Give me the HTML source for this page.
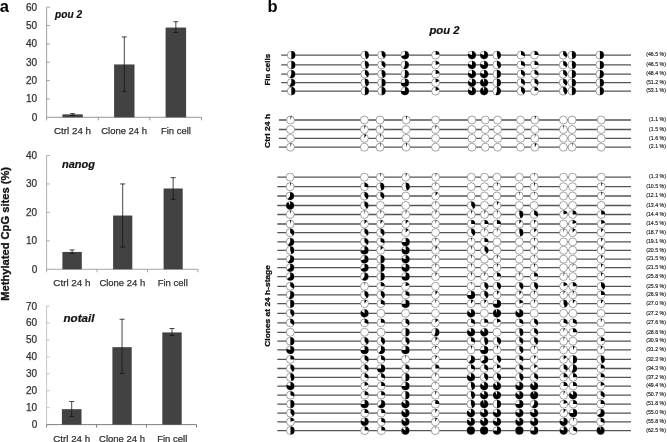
<!DOCTYPE html>
<html><head><meta charset="utf-8"><style>
html,body{margin:0;padding:0;background:#fff;}
body{width:667px;height:442px;overflow:hidden;}
svg{display:block;font-family:"Liberation Sans", sans-serif;filter:blur(0.35px);}
</style></head><body>
<svg width="667" height="442" viewBox="0 0 667 442">
<rect width="667" height="442" fill="#fff"/>
<text x="-0.3" y="11.8" font-size="16.5" font-weight="bold" font-style="normal" text-anchor="start" fill="#000">a</text>
<line x1="46.6" y1="7.2" x2="46.6" y2="117.3" stroke="#959595" stroke-width="0.9"/>
<line x1="46.6" y1="117.3" x2="201.5" y2="117.3" stroke="#8a8a8a" stroke-width="0.9"/>
<text x="37.2" y="120.80" font-size="10.0" font-weight="normal" font-style="normal" text-anchor="end" fill="#333" stroke="#333" stroke-width="0.25">0</text>
<line x1="46.6" y1="98.95" x2="49.800000000000004" y2="98.95" stroke="#959595" stroke-width="0.9"/>
<text x="37.2" y="102.45" font-size="10.0" font-weight="normal" font-style="normal" text-anchor="end" fill="#333" stroke="#333" stroke-width="0.25">10</text>
<line x1="46.6" y1="80.60" x2="49.800000000000004" y2="80.60" stroke="#959595" stroke-width="0.9"/>
<text x="37.2" y="84.10" font-size="10.0" font-weight="normal" font-style="normal" text-anchor="end" fill="#333" stroke="#333" stroke-width="0.25">20</text>
<line x1="46.6" y1="62.25" x2="49.800000000000004" y2="62.25" stroke="#959595" stroke-width="0.9"/>
<text x="37.2" y="65.75" font-size="10.0" font-weight="normal" font-style="normal" text-anchor="end" fill="#333" stroke="#333" stroke-width="0.25">30</text>
<line x1="46.6" y1="43.90" x2="49.800000000000004" y2="43.90" stroke="#959595" stroke-width="0.9"/>
<text x="37.2" y="47.40" font-size="10.0" font-weight="normal" font-style="normal" text-anchor="end" fill="#333" stroke="#333" stroke-width="0.25">40</text>
<line x1="46.6" y1="25.55" x2="49.800000000000004" y2="25.55" stroke="#959595" stroke-width="0.9"/>
<text x="37.2" y="29.05" font-size="10.0" font-weight="normal" font-style="normal" text-anchor="end" fill="#333" stroke="#333" stroke-width="0.25">50</text>
<line x1="46.6" y1="7.20" x2="49.800000000000004" y2="7.20" stroke="#959595" stroke-width="0.9"/>
<text x="37.2" y="10.70" font-size="10.0" font-weight="normal" font-style="normal" text-anchor="end" fill="#333" stroke="#333" stroke-width="0.25">60</text>
<line x1="46.60" y1="117.3" x2="46.60" y2="120.3" stroke="#8a8a8a" stroke-width="0.9"/>
<line x1="98.23" y1="117.3" x2="98.23" y2="120.3" stroke="#8a8a8a" stroke-width="0.9"/>
<line x1="149.87" y1="117.3" x2="149.87" y2="120.3" stroke="#8a8a8a" stroke-width="0.9"/>
<line x1="201.50" y1="117.3" x2="201.50" y2="120.3" stroke="#8a8a8a" stroke-width="0.9"/>
<rect x="62.4" y="114.36" width="20.40" height="2.94" fill="#424242"/>
<line x1="72.60" y1="113.63" x2="72.60" y2="115.47" stroke="#151515" stroke-width="0.8"/>
<line x1="70.10" y1="113.63" x2="75.10" y2="113.63" stroke="#151515" stroke-width="0.8"/>
<line x1="70.10" y1="115.47" x2="75.10" y2="115.47" stroke="#151515" stroke-width="0.8"/>
<rect x="114.1" y="64.45" width="20.40" height="52.85" fill="#424242"/>
<line x1="124.30" y1="36.93" x2="124.30" y2="91.61" stroke="#151515" stroke-width="0.8"/>
<line x1="121.80" y1="36.93" x2="126.80" y2="36.93" stroke="#151515" stroke-width="0.8"/>
<line x1="121.80" y1="91.61" x2="126.80" y2="91.61" stroke="#151515" stroke-width="0.8"/>
<rect x="165.6" y="27.57" width="20.50" height="89.73" fill="#424242"/>
<line x1="175.85" y1="21.70" x2="175.85" y2="32.52" stroke="#151515" stroke-width="0.8"/>
<line x1="173.35" y1="21.70" x2="178.35" y2="21.70" stroke="#151515" stroke-width="0.8"/>
<line x1="173.35" y1="32.52" x2="178.35" y2="32.52" stroke="#151515" stroke-width="0.8"/>
<text x="55.1" y="17.9" font-size="10.8" font-weight="bold" font-style="italic" text-anchor="start" fill="#111" textLength="27.0" lengthAdjust="spacingAndGlyphs" stroke="#111" stroke-width="0.2">pou 2</text>
<text x="54.0" y="133.8" font-size="9.6" font-weight="normal" font-style="normal" text-anchor="start" fill="#333" textLength="37.0" lengthAdjust="spacingAndGlyphs" stroke="#333" stroke-width="0.25">Ctrl 24 h</text>
<text x="101.2" y="133.8" font-size="9.6" font-weight="normal" font-style="normal" text-anchor="start" fill="#333" textLength="45.8" lengthAdjust="spacingAndGlyphs" stroke="#333" stroke-width="0.25">Clone 24 h</text>
<text x="161.0" y="133.8" font-size="9.6" font-weight="normal" font-style="normal" text-anchor="start" fill="#333" textLength="29.9" lengthAdjust="spacingAndGlyphs" stroke="#333" stroke-width="0.25">Fin cell</text>
<line x1="46.6" y1="155.5" x2="46.6" y2="269.3" stroke="#a5a5a5" stroke-width="0.9"/>
<line x1="46.6" y1="269.3" x2="198.0" y2="269.3" stroke="#9c9c9c" stroke-width="0.9"/>
<text x="37.2" y="272.80" font-size="10.0" font-weight="normal" font-style="normal" text-anchor="end" fill="#333" stroke="#333" stroke-width="0.25">0</text>
<line x1="46.6" y1="240.85" x2="49.800000000000004" y2="240.85" stroke="#a5a5a5" stroke-width="0.9"/>
<text x="37.2" y="244.35" font-size="10.0" font-weight="normal" font-style="normal" text-anchor="end" fill="#333" stroke="#333" stroke-width="0.25">10</text>
<line x1="46.6" y1="212.40" x2="49.800000000000004" y2="212.40" stroke="#a5a5a5" stroke-width="0.9"/>
<text x="37.2" y="215.90" font-size="10.0" font-weight="normal" font-style="normal" text-anchor="end" fill="#333" stroke="#333" stroke-width="0.25">20</text>
<line x1="46.6" y1="183.95" x2="49.800000000000004" y2="183.95" stroke="#a5a5a5" stroke-width="0.9"/>
<text x="37.2" y="187.45" font-size="10.0" font-weight="normal" font-style="normal" text-anchor="end" fill="#333" stroke="#333" stroke-width="0.25">30</text>
<line x1="46.6" y1="155.50" x2="49.800000000000004" y2="155.50" stroke="#a5a5a5" stroke-width="0.9"/>
<text x="37.2" y="159.00" font-size="10.0" font-weight="normal" font-style="normal" text-anchor="end" fill="#333" stroke="#333" stroke-width="0.25">40</text>
<line x1="46.60" y1="269.3" x2="46.60" y2="272.3" stroke="#9c9c9c" stroke-width="0.9"/>
<line x1="97.07" y1="269.3" x2="97.07" y2="272.3" stroke="#9c9c9c" stroke-width="0.9"/>
<line x1="147.53" y1="269.3" x2="147.53" y2="272.3" stroke="#9c9c9c" stroke-width="0.9"/>
<line x1="198.00" y1="269.3" x2="198.00" y2="272.3" stroke="#9c9c9c" stroke-width="0.9"/>
<rect x="62.4" y="251.95" width="19.40" height="17.35" fill="#424242"/>
<line x1="72.10" y1="249.95" x2="72.10" y2="253.37" stroke="#151515" stroke-width="0.8"/>
<line x1="69.60" y1="249.95" x2="74.60" y2="249.95" stroke="#151515" stroke-width="0.8"/>
<line x1="69.60" y1="253.37" x2="74.60" y2="253.37" stroke="#151515" stroke-width="0.8"/>
<rect x="113.1" y="215.53" width="19.20" height="53.77" fill="#424242"/>
<line x1="122.70" y1="183.95" x2="122.70" y2="247.11" stroke="#151515" stroke-width="0.8"/>
<line x1="120.20" y1="183.95" x2="125.20" y2="183.95" stroke="#151515" stroke-width="0.8"/>
<line x1="120.20" y1="247.11" x2="125.20" y2="247.11" stroke="#151515" stroke-width="0.8"/>
<rect x="163.6" y="188.50" width="19.10" height="80.80" fill="#424242"/>
<line x1="173.15" y1="177.69" x2="173.15" y2="199.31" stroke="#151515" stroke-width="0.8"/>
<line x1="170.65" y1="177.69" x2="175.65" y2="177.69" stroke="#151515" stroke-width="0.8"/>
<line x1="170.65" y1="199.31" x2="175.65" y2="199.31" stroke="#151515" stroke-width="0.8"/>
<text x="62.0" y="167.8" font-size="10.8" font-weight="bold" font-style="italic" text-anchor="start" fill="#111" textLength="33.0" lengthAdjust="spacingAndGlyphs" stroke="#111" stroke-width="0.2">nanog</text>
<text x="53.3" y="286.1" font-size="9.6" font-weight="normal" font-style="normal" text-anchor="start" fill="#333" textLength="37.2" lengthAdjust="spacingAndGlyphs" stroke="#333" stroke-width="0.25">Ctrl 24 h</text>
<text x="99.4" y="286.1" font-size="9.6" font-weight="normal" font-style="normal" text-anchor="start" fill="#333" textLength="45.8" lengthAdjust="spacingAndGlyphs" stroke="#333" stroke-width="0.25">Clone 24 h</text>
<text x="157.7" y="286.1" font-size="9.6" font-weight="normal" font-style="normal" text-anchor="start" fill="#333" textLength="30.1" lengthAdjust="spacingAndGlyphs" stroke="#333" stroke-width="0.25">Fin cell</text>
<line x1="46.6" y1="306.0" x2="46.6" y2="424.6" stroke="#c0c0c0" stroke-width="0.9"/>
<line x1="46.6" y1="424.6" x2="196.5" y2="424.6" stroke="#707070" stroke-width="0.9"/>
<text x="37.2" y="428.10" font-size="10.0" font-weight="normal" font-style="normal" text-anchor="end" fill="#333" stroke="#333" stroke-width="0.25">0</text>
<line x1="46.6" y1="407.66" x2="49.800000000000004" y2="407.66" stroke="#c0c0c0" stroke-width="0.9"/>
<text x="37.2" y="411.16" font-size="10.0" font-weight="normal" font-style="normal" text-anchor="end" fill="#333" stroke="#333" stroke-width="0.25">10</text>
<line x1="46.6" y1="390.71" x2="49.800000000000004" y2="390.71" stroke="#c0c0c0" stroke-width="0.9"/>
<text x="37.2" y="394.21" font-size="10.0" font-weight="normal" font-style="normal" text-anchor="end" fill="#333" stroke="#333" stroke-width="0.25">20</text>
<line x1="46.6" y1="373.77" x2="49.800000000000004" y2="373.77" stroke="#c0c0c0" stroke-width="0.9"/>
<text x="37.2" y="377.27" font-size="10.0" font-weight="normal" font-style="normal" text-anchor="end" fill="#333" stroke="#333" stroke-width="0.25">30</text>
<line x1="46.6" y1="356.83" x2="49.800000000000004" y2="356.83" stroke="#c0c0c0" stroke-width="0.9"/>
<text x="37.2" y="360.33" font-size="10.0" font-weight="normal" font-style="normal" text-anchor="end" fill="#333" stroke="#333" stroke-width="0.25">40</text>
<line x1="46.6" y1="339.89" x2="49.800000000000004" y2="339.89" stroke="#c0c0c0" stroke-width="0.9"/>
<text x="37.2" y="343.39" font-size="10.0" font-weight="normal" font-style="normal" text-anchor="end" fill="#333" stroke="#333" stroke-width="0.25">50</text>
<line x1="46.6" y1="322.94" x2="49.800000000000004" y2="322.94" stroke="#c0c0c0" stroke-width="0.9"/>
<text x="37.2" y="326.44" font-size="10.0" font-weight="normal" font-style="normal" text-anchor="end" fill="#333" stroke="#333" stroke-width="0.25">60</text>
<line x1="46.6" y1="306.00" x2="49.800000000000004" y2="306.00" stroke="#c0c0c0" stroke-width="0.9"/>
<text x="37.2" y="309.50" font-size="10.0" font-weight="normal" font-style="normal" text-anchor="end" fill="#333" stroke="#333" stroke-width="0.25">70</text>
<line x1="46.60" y1="424.6" x2="46.60" y2="427.6" stroke="#707070" stroke-width="0.9"/>
<line x1="96.57" y1="424.6" x2="96.57" y2="427.6" stroke="#707070" stroke-width="0.9"/>
<line x1="146.53" y1="424.6" x2="146.53" y2="427.6" stroke="#707070" stroke-width="0.9"/>
<line x1="196.50" y1="424.6" x2="196.50" y2="427.6" stroke="#707070" stroke-width="0.9"/>
<rect x="61.9" y="409.18" width="19.60" height="15.42" fill="#424242"/>
<line x1="71.70" y1="401.56" x2="71.70" y2="416.64" stroke="#151515" stroke-width="0.8"/>
<line x1="69.20" y1="401.56" x2="74.20" y2="401.56" stroke="#151515" stroke-width="0.8"/>
<line x1="69.20" y1="416.64" x2="74.20" y2="416.64" stroke="#151515" stroke-width="0.8"/>
<rect x="112.4" y="347.17" width="19.30" height="77.43" fill="#424242"/>
<line x1="122.05" y1="319.22" x2="122.05" y2="373.43" stroke="#151515" stroke-width="0.8"/>
<line x1="119.55" y1="319.22" x2="124.55" y2="319.22" stroke="#151515" stroke-width="0.8"/>
<line x1="119.55" y1="373.43" x2="124.55" y2="373.43" stroke="#151515" stroke-width="0.8"/>
<rect x="162.3" y="332.43" width="19.40" height="92.17" fill="#424242"/>
<line x1="172.00" y1="328.53" x2="172.00" y2="335.48" stroke="#151515" stroke-width="0.8"/>
<line x1="169.50" y1="328.53" x2="174.50" y2="328.53" stroke="#151515" stroke-width="0.8"/>
<line x1="169.50" y1="335.48" x2="174.50" y2="335.48" stroke="#151515" stroke-width="0.8"/>
<text x="63.5" y="321.7" font-size="10.8" font-weight="bold" font-style="italic" text-anchor="start" fill="#111" textLength="31.0" lengthAdjust="spacingAndGlyphs" stroke="#111" stroke-width="0.2">notail</text>
<text x="53.3" y="441.6" font-size="9.6" font-weight="normal" font-style="normal" text-anchor="start" fill="#333" textLength="36.9" lengthAdjust="spacingAndGlyphs" stroke="#333" stroke-width="0.25">Ctrl 24 h</text>
<text x="99.1" y="441.6" font-size="9.6" font-weight="normal" font-style="normal" text-anchor="start" fill="#333" textLength="45.9" lengthAdjust="spacingAndGlyphs" stroke="#333" stroke-width="0.25">Clone 24 h</text>
<text x="157.2" y="441.6" font-size="9.6" font-weight="normal" font-style="normal" text-anchor="start" fill="#333" textLength="30.1" lengthAdjust="spacingAndGlyphs" stroke="#333" stroke-width="0.25">Fin cell</text>
<text x="9.5" y="300.7" font-size="11.2" font-weight="bold" font-style="normal" text-anchor="start" fill="#111" textLength="133.7" lengthAdjust="spacingAndGlyphs" transform="rotate(-90 9.5 300.7)" stroke="#111" stroke-width="0.3">Methylated CpG sites (%)</text>
<text x="267.4" y="12.0" font-size="16.5" font-weight="bold" font-style="normal" text-anchor="start" fill="#000">b</text>
<text x="429.4" y="33.5" font-size="10.4" font-weight="bold" font-style="italic" text-anchor="start" fill="#111" textLength="30.1" lengthAdjust="spacingAndGlyphs" stroke="#111" stroke-width="0.2">pou 2</text>
<line x1="281.2" y1="55.10" x2="631.0" y2="55.10" stroke="#555" stroke-width="1.3"/>
<line x1="281.2" y1="64.90" x2="631.0" y2="64.90" stroke="#555" stroke-width="1.3"/>
<line x1="281.2" y1="74.10" x2="631.0" y2="74.10" stroke="#555" stroke-width="1.3"/>
<line x1="281.2" y1="82.70" x2="631.0" y2="82.70" stroke="#555" stroke-width="1.3"/>
<line x1="281.2" y1="91.10" x2="631.0" y2="91.10" stroke="#555" stroke-width="1.3"/>
<circle cx="291.3" cy="55.10" r="4.0" fill="#fff" stroke="#858585" stroke-width="0.75"/>
<path d="M291.3,55.10L291.3,51.10A4.0,4.0 0 0 1 291.30,59.10Z" fill="#000"/>
<circle cx="364.85" cy="55.10" r="4.0" fill="#fff" stroke="#858585" stroke-width="0.75"/>
<path d="M364.85,55.10L364.85,51.10A4.0,4.0 0 0 1 366.09,58.90Z" fill="#000"/>
<circle cx="381.6" cy="55.10" r="4.0" fill="#fff" stroke="#858585" stroke-width="0.75"/>
<path d="M381.6,55.10L381.6,51.10A4.0,4.0 0 0 1 383.95,58.34Z" fill="#000"/>
<circle cx="404.9" cy="55.10" r="4.0" fill="#fff" stroke="#858585" stroke-width="0.75"/>
<path d="M404.9,55.10L404.9,51.10A4.0,4.0 0 1 1 401.10,56.34Z" fill="#000"/>
<circle cx="435.6" cy="55.10" r="4.0" fill="#fff" stroke="#858585" stroke-width="0.75"/>
<path d="M435.6,55.10L435.6,51.10A4.0,4.0 0 0 1 439.53,54.35Z" fill="#000"/>
<circle cx="471.95" cy="55.10" r="4.0" fill="#fff" stroke="#858585" stroke-width="0.75"/>
<path d="M471.95,55.10L471.95,51.10A4.0,4.0 0 1 1 468.15,53.86Z" fill="#000"/>
<circle cx="484.1" cy="55.10" r="4.0" fill="#fff" stroke="#858585" stroke-width="0.75"/>
<path d="M484.1,55.10L484.1,51.10A4.0,4.0 0 1 1 480.30,53.86Z" fill="#000"/>
<circle cx="496.9" cy="55.10" r="4.0" fill="#fff" stroke="#858585" stroke-width="0.75"/>
<path d="M496.9,55.10L496.9,51.10A4.0,4.0 0 0 1 498.14,58.90Z" fill="#000"/>
<circle cx="521.0" cy="55.10" r="4.0" fill="#fff" stroke="#858585" stroke-width="0.75"/>
<path d="M521.0,55.10L521.0,51.10A4.0,4.0 0 0 1 524.80,56.34Z" fill="#000"/>
<circle cx="534.5" cy="55.10" r="4.0" fill="#fff" stroke="#858585" stroke-width="0.75"/>
<path d="M534.5,55.10L534.5,51.10A4.0,4.0 0 0 1 538.50,55.10Z" fill="#000"/>
<circle cx="563.2" cy="55.10" r="4.0" fill="#fff" stroke="#858585" stroke-width="0.75"/>
<path d="M563.2,55.10L563.2,51.10A4.0,4.0 0 0 1 566.44,57.45Z" fill="#000"/>
<circle cx="571.9" cy="55.10" r="4.0" fill="#fff" stroke="#858585" stroke-width="0.75"/>
<path d="M571.9,55.10L571.9,51.10A4.0,4.0 0 0 1 572.40,59.07Z" fill="#000"/>
<circle cx="599.9" cy="55.10" r="4.0" fill="#fff" stroke="#858585" stroke-width="0.75"/>
<path d="M599.9,55.10L599.9,51.10A4.0,4.0 0 0 1 599.90,59.10Z" fill="#000"/>
<text x="0" y="0" font-size="5.5" text-anchor="end" fill="#1a1a1a" stroke="#1a1a1a" stroke-width="0.15" transform="translate(665.9 56.30) scale(0.95 1)">(46.5 %)</text>
<circle cx="291.3" cy="64.90" r="4.0" fill="#fff" stroke="#858585" stroke-width="0.75"/>
<path d="M291.3,64.90L291.3,60.90A4.0,4.0 0 0 1 291.30,68.90Z" fill="#000"/>
<circle cx="364.85" cy="64.90" r="4.0" fill="#fff" stroke="#858585" stroke-width="0.75"/>
<path d="M364.85,64.90L364.85,60.90A4.0,4.0 0 0 1 366.09,68.70Z" fill="#000"/>
<circle cx="381.6" cy="64.90" r="4.0" fill="#fff" stroke="#858585" stroke-width="0.75"/>
<path d="M381.6,64.90L381.6,60.90A4.0,4.0 0 0 1 384.34,67.82Z" fill="#000"/>
<circle cx="404.9" cy="64.90" r="4.0" fill="#fff" stroke="#858585" stroke-width="0.75"/>
<path d="M404.9,64.90L404.9,60.90A4.0,4.0 0 1 1 403.66,68.70Z" fill="#000"/>
<circle cx="435.6" cy="64.90" r="4.0" fill="#fff" stroke="#858585" stroke-width="0.75"/>
<path d="M435.6,64.90L435.6,60.90A4.0,4.0 0 0 1 439.40,63.66Z" fill="#000"/>
<circle cx="471.95" cy="64.90" r="4.0" fill="#fff" stroke="#858585" stroke-width="0.75"/>
<path d="M471.95,64.90L471.95,60.90A4.0,4.0 0 1 1 468.15,63.66Z" fill="#000"/>
<circle cx="484.1" cy="64.90" r="4.0" fill="#fff" stroke="#858585" stroke-width="0.75"/>
<path d="M484.1,64.90L484.1,60.90A4.0,4.0 0 1 1 480.30,63.66Z" fill="#000"/>
<circle cx="496.9" cy="64.90" r="4.0" fill="#fff" stroke="#858585" stroke-width="0.75"/>
<path d="M496.9,64.90L496.9,60.90A4.0,4.0 0 0 1 498.83,68.41Z" fill="#000"/>
<circle cx="521.0" cy="64.90" r="4.0" fill="#fff" stroke="#858585" stroke-width="0.75"/>
<path d="M521.0,64.90L521.0,60.90A4.0,4.0 0 0 1 524.80,66.14Z" fill="#000"/>
<circle cx="534.5" cy="64.90" r="4.0" fill="#fff" stroke="#858585" stroke-width="0.75"/>
<path d="M534.5,64.90L534.5,60.90A4.0,4.0 0 0 1 538.50,64.90Z" fill="#000"/>
<circle cx="563.2" cy="64.90" r="4.0" fill="#fff" stroke="#858585" stroke-width="0.75"/>
<path d="M563.2,64.90L563.2,60.90A4.0,4.0 0 0 1 566.44,67.25Z" fill="#000"/>
<circle cx="571.9" cy="64.90" r="4.0" fill="#fff" stroke="#858585" stroke-width="0.75"/>
<path d="M571.9,64.90L571.9,60.90A4.0,4.0 0 0 1 572.40,68.87Z" fill="#000"/>
<circle cx="599.9" cy="64.90" r="4.0" fill="#fff" stroke="#858585" stroke-width="0.75"/>
<path d="M599.9,64.90L599.9,60.90A4.0,4.0 0 0 1 599.90,68.90Z" fill="#000"/>
<text x="0" y="0" font-size="5.5" text-anchor="end" fill="#1a1a1a" stroke="#1a1a1a" stroke-width="0.15" transform="translate(665.9 66.10) scale(0.95 1)">(46.5 %)</text>
<circle cx="291.3" cy="74.10" r="4.0" fill="#fff" stroke="#858585" stroke-width="0.75"/>
<path d="M291.3,74.10L291.3,70.10A4.0,4.0 0 1 1 290.06,77.90Z" fill="#000"/>
<circle cx="364.85" cy="74.10" r="4.0" fill="#fff" stroke="#858585" stroke-width="0.75"/>
<path d="M364.85,74.10L364.85,70.10A4.0,4.0 0 0 1 367.20,77.34Z" fill="#000"/>
<circle cx="381.6" cy="74.10" r="4.0" fill="#fff" stroke="#858585" stroke-width="0.75"/>
<path d="M381.6,74.10L381.6,70.10A4.0,4.0 0 0 1 382.84,77.90Z" fill="#000"/>
<circle cx="404.9" cy="74.10" r="4.0" fill="#fff" stroke="#858585" stroke-width="0.75"/>
<path d="M404.9,74.10L404.9,70.10A4.0,4.0 0 1 1 404.40,78.07Z" fill="#000"/>
<circle cx="435.6" cy="74.10" r="4.0" fill="#fff" stroke="#858585" stroke-width="0.75"/>
<path d="M435.6,74.10L435.6,70.10A4.0,4.0 0 0 1 439.53,73.35Z" fill="#000"/>
<circle cx="471.95" cy="74.10" r="4.0" fill="#fff" stroke="#858585" stroke-width="0.75"/>
<path d="M471.95,74.10L471.95,70.10A4.0,4.0 0 1 1 468.15,72.86Z" fill="#000"/>
<circle cx="484.1" cy="74.10" r="4.0" fill="#fff" stroke="#858585" stroke-width="0.75"/>
<path d="M484.1,74.10L484.1,70.10A4.0,4.0 0 1 1 480.30,72.86Z" fill="#000"/>
<circle cx="496.9" cy="74.10" r="4.0" fill="#fff" stroke="#858585" stroke-width="0.75"/>
<path d="M496.9,74.10L496.9,70.10A4.0,4.0 0 0 1 496.90,78.10Z" fill="#000"/>
<circle cx="521.0" cy="74.10" r="4.0" fill="#fff" stroke="#858585" stroke-width="0.75"/>
<path d="M521.0,74.10L521.0,70.10A4.0,4.0 0 0 1 524.24,76.45Z" fill="#000"/>
<circle cx="534.5" cy="74.10" r="4.0" fill="#fff" stroke="#858585" stroke-width="0.75"/>
<path d="M534.5,74.10L534.5,70.10A4.0,4.0 0 0 1 538.30,75.34Z" fill="#000"/>
<circle cx="563.2" cy="74.10" r="4.0" fill="#fff" stroke="#858585" stroke-width="0.75"/>
<path d="M563.2,74.10L563.2,70.10A4.0,4.0 0 0 1 566.12,76.84Z" fill="#000"/>
<circle cx="571.9" cy="74.10" r="4.0" fill="#fff" stroke="#858585" stroke-width="0.75"/>
<path d="M571.9,74.10L571.9,70.10A4.0,4.0 0 0 1 571.90,78.10Z" fill="#000"/>
<circle cx="599.9" cy="74.10" r="4.0" fill="#fff" stroke="#858585" stroke-width="0.75"/>
<path d="M599.9,74.10L599.9,70.10A4.0,4.0 0 1 1 599.40,78.07Z" fill="#000"/>
<text x="0" y="0" font-size="5.5" text-anchor="end" fill="#1a1a1a" stroke="#1a1a1a" stroke-width="0.15" transform="translate(665.9 75.30) scale(0.95 1)">(48.4 %)</text>
<circle cx="291.3" cy="82.70" r="4.0" fill="#fff" stroke="#858585" stroke-width="0.75"/>
<path d="M291.3,82.70L291.3,78.70A4.0,4.0 0 1 1 289.37,86.21Z" fill="#000"/>
<circle cx="364.85" cy="82.70" r="4.0" fill="#fff" stroke="#858585" stroke-width="0.75"/>
<path d="M364.85,82.70L364.85,78.70A4.0,4.0 0 0 1 366.09,86.50Z" fill="#000"/>
<circle cx="381.6" cy="82.70" r="4.0" fill="#fff" stroke="#858585" stroke-width="0.75"/>
<path d="M381.6,82.70L381.6,78.70A4.0,4.0 0 0 1 381.60,86.70Z" fill="#000"/>
<circle cx="404.9" cy="82.70" r="4.0" fill="#fff" stroke="#858585" stroke-width="0.75"/>
<path d="M404.9,82.70L404.9,78.70A4.0,4.0 0 1 1 400.90,82.70Z" fill="#000"/>
<circle cx="435.6" cy="82.70" r="4.0" fill="#fff" stroke="#858585" stroke-width="0.75"/>
<path d="M435.6,82.70L435.6,78.70A4.0,4.0 0 0 1 439.22,81.00Z" fill="#000"/>
<circle cx="471.95" cy="82.70" r="4.0" fill="#fff" stroke="#858585" stroke-width="0.75"/>
<path d="M471.95,82.70L471.95,78.70A4.0,4.0 0 1 1 468.33,81.00Z" fill="#000"/>
<circle cx="484.1" cy="82.70" r="4.0" fill="#fff" stroke="#858585" stroke-width="0.75"/>
<path d="M484.1,82.70L484.1,78.70A4.0,4.0 0 1 1 482.40,79.08Z" fill="#000"/>
<circle cx="496.9" cy="82.70" r="4.0" fill="#fff" stroke="#858585" stroke-width="0.75"/>
<path d="M496.9,82.70L496.9,78.70A4.0,4.0 0 0 1 496.90,86.70Z" fill="#000"/>
<circle cx="521.0" cy="82.70" r="4.0" fill="#fff" stroke="#858585" stroke-width="0.75"/>
<path d="M521.0,82.70L521.0,78.70A4.0,4.0 0 0 1 524.24,85.05Z" fill="#000"/>
<circle cx="534.5" cy="82.70" r="4.0" fill="#fff" stroke="#858585" stroke-width="0.75"/>
<path d="M534.5,82.70L534.5,78.70A4.0,4.0 0 0 1 537.74,85.05Z" fill="#000"/>
<circle cx="563.2" cy="82.70" r="4.0" fill="#fff" stroke="#858585" stroke-width="0.75"/>
<path d="M563.2,82.70L563.2,78.70A4.0,4.0 0 0 1 565.94,85.62Z" fill="#000"/>
<circle cx="571.9" cy="82.70" r="4.0" fill="#fff" stroke="#858585" stroke-width="0.75"/>
<path d="M571.9,82.70L571.9,78.70A4.0,4.0 0 0 1 571.90,86.70Z" fill="#000"/>
<circle cx="599.9" cy="82.70" r="4.0" fill="#fff" stroke="#858585" stroke-width="0.75"/>
<path d="M599.9,82.70L599.9,78.70A4.0,4.0 0 0 1 599.90,86.70Z" fill="#000"/>
<text x="0" y="0" font-size="5.5" text-anchor="end" fill="#1a1a1a" stroke="#1a1a1a" stroke-width="0.15" transform="translate(665.9 83.90) scale(0.95 1)">(51.2 %)</text>
<circle cx="291.3" cy="91.10" r="4.0" fill="#fff" stroke="#858585" stroke-width="0.75"/>
<path d="M291.3,91.10L291.3,87.10A4.0,4.0 0 0 1 291.30,95.10Z" fill="#000"/>
<circle cx="364.85" cy="91.10" r="4.0" fill="#fff" stroke="#858585" stroke-width="0.75"/>
<path d="M364.85,91.10L364.85,87.10A4.0,4.0 0 0 1 364.85,95.10Z" fill="#000"/>
<circle cx="381.6" cy="91.10" r="4.0" fill="#fff" stroke="#858585" stroke-width="0.75"/>
<path d="M381.6,91.10L381.6,87.10A4.0,4.0 0 0 1 381.60,95.10Z" fill="#000"/>
<circle cx="404.9" cy="91.10" r="4.0" fill="#fff" stroke="#858585" stroke-width="0.75"/>
<path d="M404.9,91.10L404.9,87.10A4.0,4.0 0 1 1 400.90,91.10Z" fill="#000"/>
<circle cx="435.6" cy="91.10" r="4.0" fill="#fff" stroke="#858585" stroke-width="0.75"/>
<path d="M435.6,91.10L435.6,87.10A4.0,4.0 0 0 1 439.22,89.40Z" fill="#000"/>
<circle cx="471.95" cy="91.10" r="4.0" fill="#fff" stroke="#858585" stroke-width="0.75"/>
<path d="M471.95,91.10L471.95,87.10A4.0,4.0 0 1 1 468.33,89.40Z" fill="#000"/>
<circle cx="484.1" cy="91.10" r="4.0" fill="#fff" stroke="#858585" stroke-width="0.75"/>
<path d="M484.1,91.10L484.1,87.10A4.0,4.0 0 1 1 482.40,87.48Z" fill="#000"/>
<circle cx="496.9" cy="91.10" r="4.0" fill="#fff" stroke="#858585" stroke-width="0.75"/>
<path d="M496.9,91.10L496.9,87.10A4.0,4.0 0 1 1 495.66,94.90Z" fill="#000"/>
<circle cx="521.0" cy="91.10" r="4.0" fill="#fff" stroke="#858585" stroke-width="0.75"/>
<path d="M521.0,91.10L521.0,87.10A4.0,4.0 0 0 1 523.35,94.34Z" fill="#000"/>
<circle cx="534.5" cy="91.10" r="4.0" fill="#fff" stroke="#858585" stroke-width="0.75"/>
<path d="M534.5,91.10L534.5,87.10A4.0,4.0 0 0 1 538.43,90.35Z" fill="#000"/>
<circle cx="563.2" cy="91.10" r="4.0" fill="#fff" stroke="#858585" stroke-width="0.75"/>
<path d="M563.2,91.10L563.2,87.10A4.0,4.0 0 0 1 565.13,94.61Z" fill="#000"/>
<circle cx="571.9" cy="91.10" r="4.0" fill="#fff" stroke="#858585" stroke-width="0.75"/>
<path d="M571.9,91.10L571.9,87.10A4.0,4.0 0 0 1 571.90,95.10Z" fill="#000"/>
<circle cx="599.9" cy="91.10" r="4.0" fill="#fff" stroke="#858585" stroke-width="0.75"/>
<path d="M599.9,91.10L599.9,87.10A4.0,4.0 0 0 1 599.90,95.10Z" fill="#000"/>
<text x="0" y="0" font-size="5.5" text-anchor="end" fill="#1a1a1a" stroke="#1a1a1a" stroke-width="0.15" transform="translate(665.9 92.30) scale(0.95 1)">(53.1 %)</text>
<line x1="278.9" y1="120.00" x2="631.0" y2="120.00" stroke="#555" stroke-width="1.3"/>
<line x1="278.9" y1="129.50" x2="631.0" y2="129.50" stroke="#555" stroke-width="1.3"/>
<line x1="278.9" y1="138.30" x2="631.0" y2="138.30" stroke="#555" stroke-width="1.3"/>
<line x1="278.9" y1="147.20" x2="631.0" y2="147.20" stroke="#555" stroke-width="1.3"/>
<circle cx="290.5" cy="120.00" r="4.0" fill="#fff" stroke="#858585" stroke-width="0.75"/>
<path d="M290.5,120.00L290.5,116.00A4.0,4.0 0 0 1 291.74,116.20Z" fill="#000"/>
<circle cx="364.4" cy="120.00" r="4.0" fill="#fff" stroke="#858585" stroke-width="0.75"/>

<circle cx="380.0" cy="120.00" r="4.0" fill="#fff" stroke="#858585" stroke-width="0.75"/>

<circle cx="406.1" cy="120.00" r="4.0" fill="#fff" stroke="#858585" stroke-width="0.75"/>
<path d="M406.1,120.00L406.1,116.00A4.0,4.0 0 0 1 407.34,116.20Z" fill="#000"/>
<circle cx="435.5" cy="120.00" r="4.0" fill="#fff" stroke="#858585" stroke-width="0.75"/>

<circle cx="471.9" cy="120.00" r="4.0" fill="#fff" stroke="#858585" stroke-width="0.75"/>

<circle cx="485.3" cy="120.00" r="4.0" fill="#fff" stroke="#858585" stroke-width="0.75"/>

<circle cx="497.6" cy="120.00" r="4.0" fill="#fff" stroke="#858585" stroke-width="0.75"/>

<circle cx="520.5" cy="120.00" r="4.0" fill="#fff" stroke="#858585" stroke-width="0.75"/>

<circle cx="534.8" cy="120.00" r="4.0" fill="#fff" stroke="#858585" stroke-width="0.75"/>
<path d="M534.8,120.00L534.8,116.00A4.0,4.0 0 0 1 536.04,116.20Z" fill="#000"/>
<circle cx="563.4" cy="120.00" r="4.0" fill="#fff" stroke="#858585" stroke-width="0.75"/>

<circle cx="572.1" cy="120.00" r="4.0" fill="#fff" stroke="#858585" stroke-width="0.75"/>

<circle cx="601.2" cy="120.00" r="4.0" fill="#fff" stroke="#858585" stroke-width="0.75"/>

<text x="0" y="0" font-size="5.5" text-anchor="end" fill="#1a1a1a" stroke="#1a1a1a" stroke-width="0.15" transform="translate(665.9 121.20) scale(0.95 1)">(1.1 %)</text>
<circle cx="290.5" cy="129.50" r="4.0" fill="#fff" stroke="#858585" stroke-width="0.75"/>

<circle cx="364.4" cy="129.50" r="4.0" fill="#fff" stroke="#858585" stroke-width="0.75"/>
<path d="M364.4,129.50L364.4,125.50A4.0,4.0 0 0 1 365.64,125.70Z" fill="#000"/>
<circle cx="380.0" cy="129.50" r="4.0" fill="#fff" stroke="#858585" stroke-width="0.75"/>
<path d="M380.0,129.50L380.0,125.50A4.0,4.0 0 0 1 380.99,125.63Z" fill="#000"/>
<circle cx="406.1" cy="129.50" r="4.0" fill="#fff" stroke="#858585" stroke-width="0.75"/>

<circle cx="435.5" cy="129.50" r="4.0" fill="#fff" stroke="#858585" stroke-width="0.75"/>
<path d="M435.5,129.50L435.5,125.50A4.0,4.0 0 0 1 436.74,125.70Z" fill="#000"/>
<circle cx="471.9" cy="129.50" r="4.0" fill="#fff" stroke="#858585" stroke-width="0.75"/>

<circle cx="485.3" cy="129.50" r="4.0" fill="#fff" stroke="#858585" stroke-width="0.75"/>

<circle cx="497.6" cy="129.50" r="4.0" fill="#fff" stroke="#858585" stroke-width="0.75"/>

<circle cx="520.5" cy="129.50" r="4.0" fill="#fff" stroke="#858585" stroke-width="0.75"/>

<circle cx="534.8" cy="129.50" r="4.0" fill="#fff" stroke="#858585" stroke-width="0.75"/>

<circle cx="563.4" cy="129.50" r="4.0" fill="#fff" stroke="#858585" stroke-width="0.75"/>
<path d="M563.4,129.50L563.4,125.50A4.0,4.0 0 0 1 564.15,125.57Z" fill="#000"/>
<circle cx="572.1" cy="129.50" r="4.0" fill="#fff" stroke="#858585" stroke-width="0.75"/>

<circle cx="601.2" cy="129.50" r="4.0" fill="#fff" stroke="#858585" stroke-width="0.75"/>

<text x="0" y="0" font-size="5.5" text-anchor="end" fill="#1a1a1a" stroke="#1a1a1a" stroke-width="0.15" transform="translate(665.9 130.70) scale(0.95 1)">(1.5 %)</text>
<circle cx="290.5" cy="138.30" r="4.0" fill="#fff" stroke="#858585" stroke-width="0.75"/>

<circle cx="364.4" cy="138.30" r="4.0" fill="#fff" stroke="#858585" stroke-width="0.75"/>
<path d="M364.4,138.30L364.4,134.30A4.0,4.0 0 0 1 366.33,134.79Z" fill="#000"/>
<circle cx="380.0" cy="138.30" r="4.0" fill="#fff" stroke="#858585" stroke-width="0.75"/>
<path d="M380.0,138.30L380.0,134.30A4.0,4.0 0 0 1 380.99,134.43Z" fill="#000"/>
<circle cx="406.1" cy="138.30" r="4.0" fill="#fff" stroke="#858585" stroke-width="0.75"/>

<circle cx="435.5" cy="138.30" r="4.0" fill="#fff" stroke="#858585" stroke-width="0.75"/>

<circle cx="471.9" cy="138.30" r="4.0" fill="#fff" stroke="#858585" stroke-width="0.75"/>

<circle cx="485.3" cy="138.30" r="4.0" fill="#fff" stroke="#858585" stroke-width="0.75"/>

<circle cx="497.6" cy="138.30" r="4.0" fill="#fff" stroke="#858585" stroke-width="0.75"/>

<circle cx="520.5" cy="138.30" r="4.0" fill="#fff" stroke="#858585" stroke-width="0.75"/>

<circle cx="534.8" cy="138.30" r="4.0" fill="#fff" stroke="#858585" stroke-width="0.75"/>
<path d="M534.8,138.30L534.8,134.30A4.0,4.0 0 0 1 535.55,134.37Z" fill="#000"/>
<circle cx="563.4" cy="138.30" r="4.0" fill="#fff" stroke="#858585" stroke-width="0.75"/>

<circle cx="572.1" cy="138.30" r="4.0" fill="#fff" stroke="#858585" stroke-width="0.75"/>

<circle cx="601.2" cy="138.30" r="4.0" fill="#fff" stroke="#858585" stroke-width="0.75"/>

<text x="0" y="0" font-size="5.5" text-anchor="end" fill="#1a1a1a" stroke="#1a1a1a" stroke-width="0.15" transform="translate(665.9 139.50) scale(0.95 1)">(1.6 %)</text>
<circle cx="290.5" cy="147.20" r="4.0" fill="#fff" stroke="#858585" stroke-width="0.75"/>
<path d="M290.5,147.20L290.5,143.20A4.0,4.0 0 0 1 291.49,143.33Z" fill="#000"/>
<circle cx="364.4" cy="147.20" r="4.0" fill="#fff" stroke="#858585" stroke-width="0.75"/>

<circle cx="380.0" cy="147.20" r="4.0" fill="#fff" stroke="#858585" stroke-width="0.75"/>
<path d="M380.0,147.20L380.0,143.20A4.0,4.0 0 0 1 380.75,143.27Z" fill="#000"/>
<circle cx="406.1" cy="147.20" r="4.0" fill="#fff" stroke="#858585" stroke-width="0.75"/>
<path d="M406.1,147.20L406.1,143.20A4.0,4.0 0 0 1 407.34,143.40Z" fill="#000"/>
<circle cx="435.5" cy="147.20" r="4.0" fill="#fff" stroke="#858585" stroke-width="0.75"/>

<circle cx="471.9" cy="147.20" r="4.0" fill="#fff" stroke="#858585" stroke-width="0.75"/>

<circle cx="485.3" cy="147.20" r="4.0" fill="#fff" stroke="#858585" stroke-width="0.75"/>

<circle cx="497.6" cy="147.20" r="4.0" fill="#fff" stroke="#858585" stroke-width="0.75"/>

<circle cx="520.5" cy="147.20" r="4.0" fill="#fff" stroke="#858585" stroke-width="0.75"/>

<circle cx="534.8" cy="147.20" r="4.0" fill="#fff" stroke="#858585" stroke-width="0.75"/>
<path d="M534.8,147.20L534.8,143.20A4.0,4.0 0 0 1 536.73,143.69Z" fill="#000"/>
<circle cx="563.4" cy="147.20" r="4.0" fill="#fff" stroke="#858585" stroke-width="0.75"/>

<circle cx="572.1" cy="147.20" r="4.0" fill="#fff" stroke="#858585" stroke-width="0.75"/>
<path d="M572.1,147.20L572.1,143.20A4.0,4.0 0 0 1 572.85,143.27Z" fill="#000"/>
<circle cx="601.2" cy="147.20" r="4.0" fill="#fff" stroke="#858585" stroke-width="0.75"/>

<text x="0" y="0" font-size="5.5" text-anchor="end" fill="#1a1a1a" stroke="#1a1a1a" stroke-width="0.15" transform="translate(665.9 148.40) scale(0.95 1)">(2.1 %)</text>
<line x1="277.3" y1="177.20" x2="631.0" y2="177.20" stroke="#555" stroke-width="1.3"/>
<line x1="277.3" y1="186.70" x2="631.0" y2="186.70" stroke="#555" stroke-width="1.3"/>
<line x1="277.3" y1="196.00" x2="631.0" y2="196.00" stroke="#555" stroke-width="1.3"/>
<line x1="277.3" y1="205.50" x2="631.0" y2="205.50" stroke="#555" stroke-width="1.3"/>
<line x1="277.3" y1="214.50" x2="631.0" y2="214.50" stroke="#555" stroke-width="1.3"/>
<line x1="277.3" y1="224.00" x2="631.0" y2="224.00" stroke="#555" stroke-width="1.3"/>
<line x1="277.3" y1="232.60" x2="631.0" y2="232.60" stroke="#555" stroke-width="1.3"/>
<line x1="277.3" y1="241.90" x2="631.0" y2="241.90" stroke="#555" stroke-width="1.3"/>
<line x1="277.3" y1="250.30" x2="631.0" y2="250.30" stroke="#555" stroke-width="1.3"/>
<line x1="277.3" y1="259.20" x2="631.0" y2="259.20" stroke="#555" stroke-width="1.3"/>
<line x1="277.3" y1="267.70" x2="631.0" y2="267.70" stroke="#555" stroke-width="1.3"/>
<line x1="277.3" y1="276.60" x2="631.0" y2="276.60" stroke="#555" stroke-width="1.3"/>
<line x1="277.3" y1="286.30" x2="631.0" y2="286.30" stroke="#555" stroke-width="1.3"/>
<line x1="277.3" y1="294.90" x2="631.0" y2="294.90" stroke="#555" stroke-width="1.3"/>
<line x1="277.3" y1="303.70" x2="631.0" y2="303.70" stroke="#555" stroke-width="1.3"/>
<line x1="277.3" y1="313.30" x2="631.0" y2="313.30" stroke="#555" stroke-width="1.3"/>
<line x1="277.3" y1="322.80" x2="631.0" y2="322.80" stroke="#555" stroke-width="1.3"/>
<line x1="277.3" y1="332.30" x2="631.0" y2="332.30" stroke="#555" stroke-width="1.3"/>
<line x1="277.3" y1="341.20" x2="631.0" y2="341.20" stroke="#555" stroke-width="1.3"/>
<line x1="277.3" y1="349.90" x2="631.0" y2="349.90" stroke="#555" stroke-width="1.3"/>
<line x1="277.3" y1="359.40" x2="631.0" y2="359.40" stroke="#555" stroke-width="1.3"/>
<line x1="277.3" y1="368.50" x2="631.0" y2="368.50" stroke="#555" stroke-width="1.3"/>
<line x1="277.3" y1="377.30" x2="631.0" y2="377.30" stroke="#555" stroke-width="1.3"/>
<line x1="277.3" y1="386.10" x2="631.0" y2="386.10" stroke="#555" stroke-width="1.3"/>
<line x1="277.3" y1="395.20" x2="631.0" y2="395.20" stroke="#555" stroke-width="1.3"/>
<line x1="277.3" y1="404.10" x2="631.0" y2="404.10" stroke="#555" stroke-width="1.3"/>
<line x1="277.3" y1="413.10" x2="631.0" y2="413.10" stroke="#555" stroke-width="1.3"/>
<line x1="277.3" y1="421.80" x2="631.0" y2="421.80" stroke="#555" stroke-width="1.3"/>
<line x1="277.3" y1="430.60" x2="631.0" y2="430.60" stroke="#555" stroke-width="1.3"/>
<circle cx="290.05" cy="177.20" r="4.0" fill="#fff" stroke="#858585" stroke-width="0.75"/>

<circle cx="364.4" cy="177.20" r="4.0" fill="#fff" stroke="#858585" stroke-width="0.75"/>

<circle cx="380.3" cy="177.20" r="4.0" fill="#fff" stroke="#858585" stroke-width="0.75"/>
<path d="M380.3,177.20L380.3,173.20A4.0,4.0 0 0 1 381.29,173.33Z" fill="#000"/>
<circle cx="405.75" cy="177.20" r="4.0" fill="#fff" stroke="#858585" stroke-width="0.75"/>
<path d="M405.75,177.20L405.75,173.20A4.0,4.0 0 0 1 406.99,173.40Z" fill="#000"/>
<circle cx="435.6" cy="177.20" r="4.0" fill="#fff" stroke="#858585" stroke-width="0.75"/>
<path d="M435.6,177.20L435.6,173.20A4.0,4.0 0 0 1 436.59,173.33Z" fill="#000"/>
<circle cx="471.25" cy="177.20" r="4.0" fill="#fff" stroke="#858585" stroke-width="0.75"/>

<circle cx="484.55" cy="177.20" r="4.0" fill="#fff" stroke="#858585" stroke-width="0.75"/>

<circle cx="496.9" cy="177.20" r="4.0" fill="#fff" stroke="#858585" stroke-width="0.75"/>

<circle cx="519.3" cy="177.20" r="4.0" fill="#fff" stroke="#858585" stroke-width="0.75"/>

<circle cx="534.1" cy="177.20" r="4.0" fill="#fff" stroke="#858585" stroke-width="0.75"/>
<path d="M534.1,177.20L534.1,173.20A4.0,4.0 0 0 1 534.85,173.27Z" fill="#000"/>
<circle cx="563.5" cy="177.20" r="4.0" fill="#fff" stroke="#858585" stroke-width="0.75"/>

<circle cx="572.5" cy="177.20" r="4.0" fill="#fff" stroke="#858585" stroke-width="0.75"/>

<circle cx="601.3" cy="177.20" r="4.0" fill="#fff" stroke="#858585" stroke-width="0.75"/>

<text x="0" y="0" font-size="5.5" text-anchor="end" fill="#1a1a1a" stroke="#1a1a1a" stroke-width="0.15" transform="translate(665.9 178.40) scale(0.95 1)">(1.3 %)</text>
<circle cx="290.07" cy="186.70" r="4.0" fill="#fff" stroke="#858585" stroke-width="0.75"/>
<path d="M290.07,186.70L290.07,182.70A4.0,4.0 0 0 1 291.06,182.83Z" fill="#000"/>
<circle cx="364.41" cy="186.70" r="4.0" fill="#fff" stroke="#858585" stroke-width="0.75"/>
<path d="M364.41,186.70L364.41,182.70A4.0,4.0 0 0 1 368.34,187.45Z" fill="#000"/>
<circle cx="380.34" cy="186.70" r="4.0" fill="#fff" stroke="#858585" stroke-width="0.75"/>
<path d="M380.34,186.70L380.34,182.70A4.0,4.0 0 0 1 381.58,190.50Z" fill="#000"/>
<circle cx="405.74" cy="186.70" r="4.0" fill="#fff" stroke="#858585" stroke-width="0.75"/>
<path d="M405.74,186.70L405.74,182.70A4.0,4.0 0 0 1 406.98,190.50Z" fill="#000"/>
<circle cx="435.59" cy="186.70" r="4.0" fill="#fff" stroke="#858585" stroke-width="0.75"/>
<path d="M435.59,186.70L435.59,182.70A4.0,4.0 0 0 1 436.34,182.77Z" fill="#000"/>
<circle cx="471.24" cy="186.70" r="4.0" fill="#fff" stroke="#858585" stroke-width="0.75"/>

<circle cx="484.53" cy="186.70" r="4.0" fill="#fff" stroke="#858585" stroke-width="0.75"/>

<circle cx="496.91" cy="186.70" r="4.0" fill="#fff" stroke="#858585" stroke-width="0.75"/>
<path d="M496.91,186.70L496.91,182.70A4.0,4.0 0 0 1 498.15,182.90Z" fill="#000"/>
<circle cx="519.3" cy="186.70" r="4.0" fill="#fff" stroke="#858585" stroke-width="0.75"/>

<circle cx="534.1" cy="186.70" r="4.0" fill="#fff" stroke="#858585" stroke-width="0.75"/>
<path d="M534.1,186.70L534.1,182.70A4.0,4.0 0 0 1 535.34,182.90Z" fill="#000"/>
<circle cx="563.51" cy="186.70" r="4.0" fill="#fff" stroke="#858585" stroke-width="0.75"/>

<circle cx="572.52" cy="186.70" r="4.0" fill="#fff" stroke="#858585" stroke-width="0.75"/>

<circle cx="601.27" cy="186.70" r="4.0" fill="#fff" stroke="#858585" stroke-width="0.75"/>
<path d="M601.27,186.70L601.27,182.70A4.0,4.0 0 0 1 602.51,182.90Z" fill="#000"/>
<text x="0" y="0" font-size="5.5" text-anchor="end" fill="#1a1a1a" stroke="#1a1a1a" stroke-width="0.15" transform="translate(665.9 187.90) scale(0.95 1)">(10.5 %)</text>
<circle cx="290.08" cy="196.00" r="4.0" fill="#fff" stroke="#858585" stroke-width="0.75"/>
<path d="M290.08,196.00L290.08,192.00A4.0,4.0 0 1 1 287.73,199.24Z" fill="#000"/>
<circle cx="364.42" cy="196.00" r="4.0" fill="#fff" stroke="#858585" stroke-width="0.75"/>
<path d="M364.42,196.00L364.42,192.00A4.0,4.0 0 0 1 366.77,199.24Z" fill="#000"/>
<circle cx="380.38" cy="196.00" r="4.0" fill="#fff" stroke="#858585" stroke-width="0.75"/>
<path d="M380.38,196.00L380.38,192.00A4.0,4.0 0 0 1 383.12,198.92Z" fill="#000"/>
<circle cx="405.73" cy="196.00" r="4.0" fill="#fff" stroke="#858585" stroke-width="0.75"/>

<circle cx="435.58" cy="196.00" r="4.0" fill="#fff" stroke="#858585" stroke-width="0.75"/>
<path d="M435.58,196.00L435.58,192.00A4.0,4.0 0 0 1 437.93,192.76Z" fill="#000"/>
<circle cx="471.23" cy="196.00" r="4.0" fill="#fff" stroke="#858585" stroke-width="0.75"/>

<circle cx="484.52" cy="196.00" r="4.0" fill="#fff" stroke="#858585" stroke-width="0.75"/>

<circle cx="496.91" cy="196.00" r="4.0" fill="#fff" stroke="#858585" stroke-width="0.75"/>

<circle cx="519.31" cy="196.00" r="4.0" fill="#fff" stroke="#858585" stroke-width="0.75"/>
<path d="M519.31,196.00L519.31,192.00A4.0,4.0 0 0 1 520.06,192.07Z" fill="#000"/>
<circle cx="534.11" cy="196.00" r="4.0" fill="#fff" stroke="#858585" stroke-width="0.75"/>
<path d="M534.11,196.00L534.11,192.00A4.0,4.0 0 0 1 534.86,192.07Z" fill="#000"/>
<circle cx="563.51" cy="196.00" r="4.0" fill="#fff" stroke="#858585" stroke-width="0.75"/>

<circle cx="572.55" cy="196.00" r="4.0" fill="#fff" stroke="#858585" stroke-width="0.75"/>

<circle cx="601.25" cy="196.00" r="4.0" fill="#fff" stroke="#858585" stroke-width="0.75"/>
<path d="M601.25,196.00L601.25,192.00A4.0,4.0 0 0 1 602.49,192.20Z" fill="#000"/>
<text x="0" y="0" font-size="5.5" text-anchor="end" fill="#1a1a1a" stroke="#1a1a1a" stroke-width="0.15" transform="translate(665.9 197.20) scale(0.95 1)">(12.1 %)</text>
<circle cx="290.1" cy="205.50" r="4.0" fill="#fff" stroke="#858585" stroke-width="0.75"/>
<path d="M290.1,205.50L290.1,201.50A4.0,4.0 0 1 1 288.17,201.99Z" fill="#000"/>
<circle cx="364.43" cy="205.50" r="4.0" fill="#fff" stroke="#858585" stroke-width="0.75"/>
<path d="M364.43,205.50L364.43,201.50A4.0,4.0 0 0 1 366.78,208.74Z" fill="#000"/>
<circle cx="380.41" cy="205.50" r="4.0" fill="#fff" stroke="#858585" stroke-width="0.75"/>

<circle cx="405.71" cy="205.50" r="4.0" fill="#fff" stroke="#858585" stroke-width="0.75"/>

<circle cx="435.57" cy="205.50" r="4.0" fill="#fff" stroke="#858585" stroke-width="0.75"/>
<path d="M435.57,205.50L435.57,201.50A4.0,4.0 0 0 1 436.32,201.57Z" fill="#000"/>
<circle cx="471.21" cy="205.50" r="4.0" fill="#fff" stroke="#858585" stroke-width="0.75"/>
<path d="M471.21,205.50L471.21,201.50A4.0,4.0 0 0 1 473.56,208.74Z" fill="#000"/>
<circle cx="484.5" cy="205.50" r="4.0" fill="#fff" stroke="#858585" stroke-width="0.75"/>

<circle cx="496.92" cy="205.50" r="4.0" fill="#fff" stroke="#858585" stroke-width="0.75"/>
<path d="M496.92,205.50L496.92,201.50A4.0,4.0 0 0 1 498.85,201.99Z" fill="#000"/>
<circle cx="519.31" cy="205.50" r="4.0" fill="#fff" stroke="#858585" stroke-width="0.75"/>

<circle cx="534.11" cy="205.50" r="4.0" fill="#fff" stroke="#858585" stroke-width="0.75"/>

<circle cx="563.52" cy="205.50" r="4.0" fill="#fff" stroke="#858585" stroke-width="0.75"/>

<circle cx="572.58" cy="205.50" r="4.0" fill="#fff" stroke="#858585" stroke-width="0.75"/>

<circle cx="601.22" cy="205.50" r="4.0" fill="#fff" stroke="#858585" stroke-width="0.75"/>

<text x="0" y="0" font-size="5.5" text-anchor="end" fill="#1a1a1a" stroke="#1a1a1a" stroke-width="0.15" transform="translate(665.9 206.70) scale(0.95 1)">(13.4 %)</text>
<circle cx="290.11" cy="214.50" r="4.0" fill="#fff" stroke="#858585" stroke-width="0.75"/>
<path d="M290.11,214.50L290.11,210.50A4.0,4.0 0 0 1 291.10,210.63Z" fill="#000"/>
<circle cx="364.44" cy="214.50" r="4.0" fill="#fff" stroke="#858585" stroke-width="0.75"/>
<path d="M364.44,214.50L364.44,210.50A4.0,4.0 0 0 1 365.19,210.57Z" fill="#000"/>
<circle cx="380.45" cy="214.50" r="4.0" fill="#fff" stroke="#858585" stroke-width="0.75"/>
<path d="M380.45,214.50L380.45,210.50A4.0,4.0 0 0 1 381.44,210.63Z" fill="#000"/>
<circle cx="405.7" cy="214.50" r="4.0" fill="#fff" stroke="#858585" stroke-width="0.75"/>
<path d="M405.7,214.50L405.7,210.50A4.0,4.0 0 0 1 406.69,210.63Z" fill="#000"/>
<circle cx="435.56" cy="214.50" r="4.0" fill="#fff" stroke="#858585" stroke-width="0.75"/>
<path d="M435.56,214.50L435.56,210.50A4.0,4.0 0 0 1 436.80,210.70Z" fill="#000"/>
<circle cx="471.2" cy="214.50" r="4.0" fill="#fff" stroke="#858585" stroke-width="0.75"/>
<path d="M471.2,214.50L471.2,210.50A4.0,4.0 0 0 1 472.44,210.70Z" fill="#000"/>
<circle cx="484.49" cy="214.50" r="4.0" fill="#fff" stroke="#858585" stroke-width="0.75"/>
<path d="M484.49,214.50L484.49,210.50A4.0,4.0 0 0 1 485.73,210.70Z" fill="#000"/>
<circle cx="496.92" cy="214.50" r="4.0" fill="#fff" stroke="#858585" stroke-width="0.75"/>
<path d="M496.92,214.50L496.92,210.50A4.0,4.0 0 0 1 497.91,210.63Z" fill="#000"/>
<circle cx="519.31" cy="214.50" r="4.0" fill="#fff" stroke="#858585" stroke-width="0.75"/>
<path d="M519.31,214.50L519.31,210.50A4.0,4.0 0 0 1 520.55,218.30Z" fill="#000"/>
<circle cx="534.11" cy="214.50" r="4.0" fill="#fff" stroke="#858585" stroke-width="0.75"/>
<path d="M534.11,214.50L534.11,210.50A4.0,4.0 0 0 1 537.35,216.85Z" fill="#000"/>
<circle cx="563.52" cy="214.50" r="4.0" fill="#fff" stroke="#858585" stroke-width="0.75"/>
<path d="M563.52,214.50L563.52,210.50A4.0,4.0 0 0 1 567.32,213.26Z" fill="#000"/>
<circle cx="572.6" cy="214.50" r="4.0" fill="#fff" stroke="#858585" stroke-width="0.75"/>
<path d="M572.6,214.50L572.6,210.50A4.0,4.0 0 0 1 576.60,214.50Z" fill="#000"/>
<circle cx="601.2" cy="214.50" r="4.0" fill="#fff" stroke="#858585" stroke-width="0.75"/>
<path d="M601.2,214.50L601.2,210.50A4.0,4.0 0 0 1 605.20,214.50Z" fill="#000"/>
<text x="0" y="0" font-size="5.5" text-anchor="end" fill="#1a1a1a" stroke="#1a1a1a" stroke-width="0.15" transform="translate(665.9 215.70) scale(0.95 1)">(14.4 %)</text>
<circle cx="290.13" cy="224.00" r="4.0" fill="#fff" stroke="#858585" stroke-width="0.75"/>
<path d="M290.13,224.00L290.13,220.00A4.0,4.0 0 0 1 291.37,220.20Z" fill="#000"/>
<circle cx="364.44" cy="224.00" r="4.0" fill="#fff" stroke="#858585" stroke-width="0.75"/>
<path d="M364.44,224.00L364.44,220.00A4.0,4.0 0 0 1 367.18,221.08Z" fill="#000"/>
<circle cx="380.49" cy="224.00" r="4.0" fill="#fff" stroke="#858585" stroke-width="0.75"/>
<path d="M380.49,224.00L380.49,220.00A4.0,4.0 0 0 1 382.84,220.76Z" fill="#000"/>
<circle cx="405.69" cy="224.00" r="4.0" fill="#fff" stroke="#858585" stroke-width="0.75"/>
<path d="M405.69,224.00L405.69,220.00A4.0,4.0 0 0 1 408.43,221.08Z" fill="#000"/>
<circle cx="435.55" cy="224.00" r="4.0" fill="#fff" stroke="#858585" stroke-width="0.75"/>
<path d="M435.55,224.00L435.55,220.00A4.0,4.0 0 0 1 436.54,220.13Z" fill="#000"/>
<circle cx="471.19" cy="224.00" r="4.0" fill="#fff" stroke="#858585" stroke-width="0.75"/>
<path d="M471.19,224.00L471.19,220.00A4.0,4.0 0 0 1 475.19,224.00Z" fill="#000"/>
<circle cx="484.47" cy="224.00" r="4.0" fill="#fff" stroke="#858585" stroke-width="0.75"/>
<path d="M484.47,224.00L484.47,220.00A4.0,4.0 0 0 1 488.47,224.00Z" fill="#000"/>
<circle cx="496.93" cy="224.00" r="4.0" fill="#fff" stroke="#858585" stroke-width="0.75"/>
<path d="M496.93,224.00L496.93,220.00A4.0,4.0 0 0 1 500.93,224.00Z" fill="#000"/>
<circle cx="519.32" cy="224.00" r="4.0" fill="#fff" stroke="#858585" stroke-width="0.75"/>
<path d="M519.32,224.00L519.32,220.00A4.0,4.0 0 0 1 521.67,220.76Z" fill="#000"/>
<circle cx="534.12" cy="224.00" r="4.0" fill="#fff" stroke="#858585" stroke-width="0.75"/>
<path d="M534.12,224.00L534.12,220.00A4.0,4.0 0 0 1 536.05,220.49Z" fill="#000"/>
<circle cx="563.53" cy="224.00" r="4.0" fill="#fff" stroke="#858585" stroke-width="0.75"/>

<circle cx="572.62" cy="224.00" r="4.0" fill="#fff" stroke="#858585" stroke-width="0.75"/>
<path d="M572.62,224.00L572.62,220.00A4.0,4.0 0 0 1 576.42,222.76Z" fill="#000"/>
<circle cx="601.17" cy="224.00" r="4.0" fill="#fff" stroke="#858585" stroke-width="0.75"/>
<path d="M601.17,224.00L601.17,220.00A4.0,4.0 0 0 1 604.97,222.76Z" fill="#000"/>
<text x="0" y="0" font-size="5.5" text-anchor="end" fill="#1a1a1a" stroke="#1a1a1a" stroke-width="0.15" transform="translate(665.9 225.20) scale(0.95 1)">(14.5 %)</text>
<circle cx="290.15" cy="232.60" r="4.0" fill="#fff" stroke="#858585" stroke-width="0.75"/>
<path d="M290.15,232.60L290.15,228.60A4.0,4.0 0 0 1 292.89,235.52Z" fill="#000"/>
<circle cx="364.45" cy="232.60" r="4.0" fill="#fff" stroke="#858585" stroke-width="0.75"/>
<path d="M364.45,232.60L364.45,228.60A4.0,4.0 0 0 1 367.19,235.52Z" fill="#000"/>
<circle cx="380.53" cy="232.60" r="4.0" fill="#fff" stroke="#858585" stroke-width="0.75"/>
<path d="M380.53,232.60L380.53,228.60A4.0,4.0 0 0 1 383.27,235.52Z" fill="#000"/>
<circle cx="405.68" cy="232.60" r="4.0" fill="#fff" stroke="#858585" stroke-width="0.75"/>
<path d="M405.68,232.60L405.68,228.60A4.0,4.0 0 0 1 408.42,229.68Z" fill="#000"/>
<circle cx="435.54" cy="232.60" r="4.0" fill="#fff" stroke="#858585" stroke-width="0.75"/>

<circle cx="471.18" cy="232.60" r="4.0" fill="#fff" stroke="#858585" stroke-width="0.75"/>
<path d="M471.18,232.60L471.18,228.60A4.0,4.0 0 0 1 473.53,235.84Z" fill="#000"/>
<circle cx="484.45" cy="232.60" r="4.0" fill="#fff" stroke="#858585" stroke-width="0.75"/>
<path d="M484.45,232.60L484.45,228.60A4.0,4.0 0 0 1 485.44,228.73Z" fill="#000"/>
<circle cx="496.93" cy="232.60" r="4.0" fill="#fff" stroke="#858585" stroke-width="0.75"/>
<path d="M496.93,232.60L496.93,228.60A4.0,4.0 0 0 1 497.92,228.73Z" fill="#000"/>
<circle cx="519.32" cy="232.60" r="4.0" fill="#fff" stroke="#858585" stroke-width="0.75"/>
<path d="M519.32,232.60L519.32,228.60A4.0,4.0 0 0 1 520.56,236.40Z" fill="#000"/>
<circle cx="534.12" cy="232.60" r="4.0" fill="#fff" stroke="#858585" stroke-width="0.75"/>
<path d="M534.12,232.60L534.12,228.60A4.0,4.0 0 0 1 536.86,229.68Z" fill="#000"/>
<circle cx="563.53" cy="232.60" r="4.0" fill="#fff" stroke="#858585" stroke-width="0.75"/>
<path d="M563.53,232.60L563.53,228.60A4.0,4.0 0 0 1 564.52,228.73Z" fill="#000"/>
<circle cx="572.65" cy="232.60" r="4.0" fill="#fff" stroke="#858585" stroke-width="0.75"/>
<path d="M572.65,232.60L572.65,228.60A4.0,4.0 0 0 1 575.39,229.68Z" fill="#000"/>
<circle cx="601.15" cy="232.60" r="4.0" fill="#fff" stroke="#858585" stroke-width="0.75"/>
<path d="M601.15,232.60L601.15,228.60A4.0,4.0 0 0 1 603.50,229.36Z" fill="#000"/>
<text x="0" y="0" font-size="5.5" text-anchor="end" fill="#1a1a1a" stroke="#1a1a1a" stroke-width="0.15" transform="translate(665.9 233.80) scale(0.95 1)">(18.7 %)</text>
<circle cx="290.16" cy="241.90" r="4.0" fill="#fff" stroke="#858585" stroke-width="0.75"/>
<path d="M290.16,241.90L290.16,237.90A4.0,4.0 0 1 1 287.81,245.14Z" fill="#000"/>
<circle cx="364.46" cy="241.90" r="4.0" fill="#fff" stroke="#858585" stroke-width="0.75"/>
<path d="M364.46,241.90L364.46,237.90A4.0,4.0 0 0 1 367.20,244.82Z" fill="#000"/>
<circle cx="380.56" cy="241.90" r="4.0" fill="#fff" stroke="#858585" stroke-width="0.75"/>
<path d="M380.56,241.90L380.56,237.90A4.0,4.0 0 0 1 384.36,243.14Z" fill="#000"/>
<circle cx="405.66" cy="241.90" r="4.0" fill="#fff" stroke="#858585" stroke-width="0.75"/>
<path d="M405.66,241.90L405.66,237.90A4.0,4.0 0 1 1 401.66,241.90Z" fill="#000"/>
<circle cx="435.53" cy="241.90" r="4.0" fill="#fff" stroke="#858585" stroke-width="0.75"/>
<path d="M435.53,241.90L435.53,237.90A4.0,4.0 0 0 1 436.52,238.03Z" fill="#000"/>
<circle cx="471.16" cy="241.90" r="4.0" fill="#fff" stroke="#858585" stroke-width="0.75"/>
<path d="M471.16,241.90L471.16,237.90A4.0,4.0 0 0 1 472.15,238.03Z" fill="#000"/>
<circle cx="484.44" cy="241.90" r="4.0" fill="#fff" stroke="#858585" stroke-width="0.75"/>
<path d="M484.44,241.90L484.44,237.90A4.0,4.0 0 0 1 488.44,241.90Z" fill="#000"/>
<circle cx="496.94" cy="241.90" r="4.0" fill="#fff" stroke="#858585" stroke-width="0.75"/>

<circle cx="519.32" cy="241.90" r="4.0" fill="#fff" stroke="#858585" stroke-width="0.75"/>

<circle cx="534.12" cy="241.90" r="4.0" fill="#fff" stroke="#858585" stroke-width="0.75"/>
<path d="M534.12,241.90L534.12,237.90A4.0,4.0 0 0 1 535.36,238.10Z" fill="#000"/>
<circle cx="563.54" cy="241.90" r="4.0" fill="#fff" stroke="#858585" stroke-width="0.75"/>

<circle cx="572.67" cy="241.90" r="4.0" fill="#fff" stroke="#858585" stroke-width="0.75"/>

<circle cx="601.12" cy="241.90" r="4.0" fill="#fff" stroke="#858585" stroke-width="0.75"/>
<path d="M601.12,241.90L601.12,237.90A4.0,4.0 0 0 1 603.05,238.39Z" fill="#000"/>
<text x="0" y="0" font-size="5.5" text-anchor="end" fill="#1a1a1a" stroke="#1a1a1a" stroke-width="0.15" transform="translate(665.9 243.10) scale(0.95 1)">(19.1 %)</text>
<circle cx="290.18" cy="250.30" r="4.0" fill="#fff" stroke="#858585" stroke-width="0.75"/>
<path d="M290.18,250.30L290.18,246.30A4.0,4.0 0 0 1 291.42,254.10Z" fill="#000"/>
<circle cx="364.47" cy="250.30" r="4.0" fill="#fff" stroke="#858585" stroke-width="0.75"/>
<path d="M364.47,250.30L364.47,246.30A4.0,4.0 0 1 1 360.47,250.30Z" fill="#000"/>
<circle cx="380.6" cy="250.30" r="4.0" fill="#fff" stroke="#858585" stroke-width="0.75"/>
<path d="M380.6,250.30L380.6,246.30A4.0,4.0 0 0 1 383.34,247.38Z" fill="#000"/>
<circle cx="405.65" cy="250.30" r="4.0" fill="#fff" stroke="#858585" stroke-width="0.75"/>
<path d="M405.65,250.30L405.65,246.30A4.0,4.0 0 1 1 402.03,248.60Z" fill="#000"/>
<circle cx="435.51" cy="250.30" r="4.0" fill="#fff" stroke="#858585" stroke-width="0.75"/>
<path d="M435.51,250.30L435.51,246.30A4.0,4.0 0 0 1 437.44,246.79Z" fill="#000"/>
<circle cx="471.15" cy="250.30" r="4.0" fill="#fff" stroke="#858585" stroke-width="0.75"/>
<path d="M471.15,250.30L471.15,246.30A4.0,4.0 0 0 1 472.14,246.43Z" fill="#000"/>
<circle cx="484.42" cy="250.30" r="4.0" fill="#fff" stroke="#858585" stroke-width="0.75"/>
<path d="M484.42,250.30L484.42,246.30A4.0,4.0 0 0 1 486.77,253.54Z" fill="#000"/>
<circle cx="496.94" cy="250.30" r="4.0" fill="#fff" stroke="#858585" stroke-width="0.75"/>

<circle cx="519.33" cy="250.30" r="4.0" fill="#fff" stroke="#858585" stroke-width="0.75"/>

<circle cx="534.13" cy="250.30" r="4.0" fill="#fff" stroke="#858585" stroke-width="0.75"/>
<path d="M534.13,250.30L534.13,246.30A4.0,4.0 0 0 1 535.37,246.50Z" fill="#000"/>
<circle cx="563.54" cy="250.30" r="4.0" fill="#fff" stroke="#858585" stroke-width="0.75"/>

<circle cx="572.7" cy="250.30" r="4.0" fill="#fff" stroke="#858585" stroke-width="0.75"/>

<circle cx="601.1" cy="250.30" r="4.0" fill="#fff" stroke="#858585" stroke-width="0.75"/>
<path d="M601.1,250.30L601.1,246.30A4.0,4.0 0 0 1 603.03,246.79Z" fill="#000"/>
<text x="0" y="0" font-size="5.5" text-anchor="end" fill="#1a1a1a" stroke="#1a1a1a" stroke-width="0.15" transform="translate(665.9 251.50) scale(0.95 1)">(20.5 %)</text>
<circle cx="290.19" cy="259.20" r="4.0" fill="#fff" stroke="#858585" stroke-width="0.75"/>
<path d="M290.19,259.20L290.19,255.20A4.0,4.0 0 1 1 287.84,262.44Z" fill="#000"/>
<circle cx="364.48" cy="259.20" r="4.0" fill="#fff" stroke="#858585" stroke-width="0.75"/>
<path d="M364.48,259.20L364.48,255.20A4.0,4.0 0 1 1 360.68,260.44Z" fill="#000"/>
<circle cx="380.64" cy="259.20" r="4.0" fill="#fff" stroke="#858585" stroke-width="0.75"/>
<path d="M380.64,259.20L380.64,255.20A4.0,4.0 0 0 1 380.64,263.20Z" fill="#000"/>
<circle cx="405.64" cy="259.20" r="4.0" fill="#fff" stroke="#858585" stroke-width="0.75"/>
<path d="M405.64,259.20L405.64,255.20A4.0,4.0 0 1 1 401.84,257.96Z" fill="#000"/>
<circle cx="435.5" cy="259.20" r="4.0" fill="#fff" stroke="#858585" stroke-width="0.75"/>
<path d="M435.5,259.20L435.5,255.20A4.0,4.0 0 0 1 436.25,255.27Z" fill="#000"/>
<circle cx="471.14" cy="259.20" r="4.0" fill="#fff" stroke="#858585" stroke-width="0.75"/>
<path d="M471.14,259.20L471.14,255.20A4.0,4.0 0 0 1 472.13,255.33Z" fill="#000"/>
<circle cx="484.41" cy="259.20" r="4.0" fill="#fff" stroke="#858585" stroke-width="0.75"/>

<circle cx="496.95" cy="259.20" r="4.0" fill="#fff" stroke="#858585" stroke-width="0.75"/>
<path d="M496.95,259.20L496.95,255.20A4.0,4.0 0 0 1 498.19,255.40Z" fill="#000"/>
<circle cx="519.33" cy="259.20" r="4.0" fill="#fff" stroke="#858585" stroke-width="0.75"/>

<circle cx="534.13" cy="259.20" r="4.0" fill="#fff" stroke="#858585" stroke-width="0.75"/>
<path d="M534.13,259.20L534.13,255.20A4.0,4.0 0 0 1 534.88,255.27Z" fill="#000"/>
<circle cx="563.55" cy="259.20" r="4.0" fill="#fff" stroke="#858585" stroke-width="0.75"/>

<circle cx="572.73" cy="259.20" r="4.0" fill="#fff" stroke="#858585" stroke-width="0.75"/>

<circle cx="601.07" cy="259.20" r="4.0" fill="#fff" stroke="#858585" stroke-width="0.75"/>
<path d="M601.07,259.20L601.07,255.20A4.0,4.0 0 0 1 603.00,255.69Z" fill="#000"/>
<text x="0" y="0" font-size="5.5" text-anchor="end" fill="#1a1a1a" stroke="#1a1a1a" stroke-width="0.15" transform="translate(665.9 260.40) scale(0.95 1)">(21.5 %)</text>
<circle cx="290.21" cy="267.70" r="4.0" fill="#fff" stroke="#858585" stroke-width="0.75"/>
<path d="M290.21,267.70L290.21,263.70A4.0,4.0 0 1 1 286.97,270.05Z" fill="#000"/>
<circle cx="364.49" cy="267.70" r="4.0" fill="#fff" stroke="#858585" stroke-width="0.75"/>
<path d="M364.49,267.70L364.49,263.70A4.0,4.0 0 1 1 360.69,268.94Z" fill="#000"/>
<circle cx="380.68" cy="267.70" r="4.0" fill="#fff" stroke="#858585" stroke-width="0.75"/>
<path d="M380.68,267.70L380.68,263.70A4.0,4.0 0 0 1 380.68,271.70Z" fill="#000"/>
<circle cx="405.62" cy="267.70" r="4.0" fill="#fff" stroke="#858585" stroke-width="0.75"/>
<path d="M405.62,267.70L405.62,263.70A4.0,4.0 0 1 1 401.82,266.46Z" fill="#000"/>
<circle cx="435.49" cy="267.70" r="4.0" fill="#fff" stroke="#858585" stroke-width="0.75"/>
<path d="M435.49,267.70L435.49,263.70A4.0,4.0 0 0 1 436.48,263.83Z" fill="#000"/>
<circle cx="471.12" cy="267.70" r="4.0" fill="#fff" stroke="#858585" stroke-width="0.75"/>
<path d="M471.12,267.70L471.12,263.70A4.0,4.0 0 0 1 472.11,263.83Z" fill="#000"/>
<circle cx="484.39" cy="267.70" r="4.0" fill="#fff" stroke="#858585" stroke-width="0.75"/>

<circle cx="496.95" cy="267.70" r="4.0" fill="#fff" stroke="#858585" stroke-width="0.75"/>
<path d="M496.95,267.70L496.95,263.70A4.0,4.0 0 0 1 498.19,263.90Z" fill="#000"/>
<circle cx="519.34" cy="267.70" r="4.0" fill="#fff" stroke="#858585" stroke-width="0.75"/>

<circle cx="534.14" cy="267.70" r="4.0" fill="#fff" stroke="#858585" stroke-width="0.75"/>
<path d="M534.14,267.70L534.14,263.70A4.0,4.0 0 0 1 535.38,263.90Z" fill="#000"/>
<circle cx="563.55" cy="267.70" r="4.0" fill="#fff" stroke="#858585" stroke-width="0.75"/>

<circle cx="572.75" cy="267.70" r="4.0" fill="#fff" stroke="#858585" stroke-width="0.75"/>
<path d="M572.75,267.70L572.75,263.70A4.0,4.0 0 0 1 573.50,263.77Z" fill="#000"/>
<circle cx="601.05" cy="267.70" r="4.0" fill="#fff" stroke="#858585" stroke-width="0.75"/>
<path d="M601.05,267.70L601.05,263.70A4.0,4.0 0 0 1 602.98,264.19Z" fill="#000"/>
<text x="0" y="0" font-size="5.5" text-anchor="end" fill="#1a1a1a" stroke="#1a1a1a" stroke-width="0.15" transform="translate(665.9 268.90) scale(0.95 1)">(21.5 %)</text>
<circle cx="290.23" cy="276.60" r="4.0" fill="#fff" stroke="#858585" stroke-width="0.75"/>
<path d="M290.23,276.60L290.23,272.60A4.0,4.0 0 1 1 286.99,278.95Z" fill="#000"/>
<circle cx="364.5" cy="276.60" r="4.0" fill="#fff" stroke="#858585" stroke-width="0.75"/>
<path d="M364.5,276.60L364.5,272.60A4.0,4.0 0 1 1 362.15,279.84Z" fill="#000"/>
<circle cx="380.71" cy="276.60" r="4.0" fill="#fff" stroke="#858585" stroke-width="0.75"/>
<path d="M380.71,276.60L380.71,272.60A4.0,4.0 0 0 1 380.71,280.60Z" fill="#000"/>
<circle cx="405.61" cy="276.60" r="4.0" fill="#fff" stroke="#858585" stroke-width="0.75"/>
<path d="M405.61,276.60L405.61,272.60A4.0,4.0 0 1 1 401.61,276.60Z" fill="#000"/>
<circle cx="435.48" cy="276.60" r="4.0" fill="#fff" stroke="#858585" stroke-width="0.75"/>
<path d="M435.48,276.60L435.48,272.60A4.0,4.0 0 0 1 436.95,272.88Z" fill="#000"/>
<circle cx="471.11" cy="276.60" r="4.0" fill="#fff" stroke="#858585" stroke-width="0.75"/>
<path d="M471.11,276.60L471.11,272.60A4.0,4.0 0 0 1 472.35,272.80Z" fill="#000"/>
<circle cx="484.37" cy="276.60" r="4.0" fill="#fff" stroke="#858585" stroke-width="0.75"/>
<path d="M484.37,276.60L484.37,272.60A4.0,4.0 0 0 1 485.61,272.80Z" fill="#000"/>
<circle cx="496.96" cy="276.60" r="4.0" fill="#fff" stroke="#858585" stroke-width="0.75"/>
<path d="M496.96,276.60L496.96,272.60A4.0,4.0 0 0 1 500.96,276.60Z" fill="#000"/>
<circle cx="519.34" cy="276.60" r="4.0" fill="#fff" stroke="#858585" stroke-width="0.75"/>
<path d="M519.34,276.60L519.34,272.60A4.0,4.0 0 0 1 520.58,272.80Z" fill="#000"/>
<circle cx="534.14" cy="276.60" r="4.0" fill="#fff" stroke="#858585" stroke-width="0.75"/>
<path d="M534.14,276.60L534.14,272.60A4.0,4.0 0 0 1 538.14,276.60Z" fill="#000"/>
<circle cx="563.56" cy="276.60" r="4.0" fill="#fff" stroke="#858585" stroke-width="0.75"/>
<path d="M563.56,276.60L563.56,272.60A4.0,4.0 0 0 1 564.55,272.73Z" fill="#000"/>
<circle cx="572.77" cy="276.60" r="4.0" fill="#fff" stroke="#858585" stroke-width="0.75"/>

<circle cx="601.02" cy="276.60" r="4.0" fill="#fff" stroke="#858585" stroke-width="0.75"/>
<path d="M601.02,276.60L601.02,272.60A4.0,4.0 0 0 1 602.95,273.09Z" fill="#000"/>
<text x="0" y="0" font-size="5.5" text-anchor="end" fill="#1a1a1a" stroke="#1a1a1a" stroke-width="0.15" transform="translate(665.9 277.80) scale(0.95 1)">(25.8 %)</text>
<circle cx="290.24" cy="286.30" r="4.0" fill="#fff" stroke="#858585" stroke-width="0.75"/>
<path d="M290.24,286.30L290.24,282.30A4.0,4.0 0 0 1 293.48,288.65Z" fill="#000"/>
<circle cx="364.51" cy="286.30" r="4.0" fill="#fff" stroke="#858585" stroke-width="0.75"/>
<path d="M364.51,286.30L364.51,282.30A4.0,4.0 0 0 1 365.26,282.37Z" fill="#000"/>
<circle cx="380.75" cy="286.30" r="4.0" fill="#fff" stroke="#858585" stroke-width="0.75"/>
<path d="M380.75,286.30L380.75,282.30A4.0,4.0 0 0 1 384.75,286.30Z" fill="#000"/>
<circle cx="405.6" cy="286.30" r="4.0" fill="#fff" stroke="#858585" stroke-width="0.75"/>
<path d="M405.6,286.30L405.6,282.30A4.0,4.0 0 0 1 409.40,285.06Z" fill="#000"/>
<circle cx="435.47" cy="286.30" r="4.0" fill="#fff" stroke="#858585" stroke-width="0.75"/>

<circle cx="471.1" cy="286.30" r="4.0" fill="#fff" stroke="#858585" stroke-width="0.75"/>
<path d="M471.1,286.30L471.1,282.30A4.0,4.0 0 0 1 471.85,282.37Z" fill="#000"/>
<circle cx="484.36" cy="286.30" r="4.0" fill="#fff" stroke="#858585" stroke-width="0.75"/>
<path d="M484.36,286.30L484.36,282.30A4.0,4.0 0 0 1 486.71,289.54Z" fill="#000"/>
<circle cx="496.96" cy="286.30" r="4.0" fill="#fff" stroke="#858585" stroke-width="0.75"/>
<path d="M496.96,286.30L496.96,282.30A4.0,4.0 0 0 1 499.31,289.54Z" fill="#000"/>
<circle cx="519.34" cy="286.30" r="4.0" fill="#fff" stroke="#858585" stroke-width="0.75"/>
<path d="M519.34,286.30L519.34,282.30A4.0,4.0 0 0 1 521.69,289.54Z" fill="#000"/>
<circle cx="534.14" cy="286.30" r="4.0" fill="#fff" stroke="#858585" stroke-width="0.75"/>
<path d="M534.14,286.30L534.14,282.30A4.0,4.0 0 0 1 536.49,289.54Z" fill="#000"/>
<circle cx="563.56" cy="286.30" r="4.0" fill="#fff" stroke="#858585" stroke-width="0.75"/>
<path d="M563.56,286.30L563.56,282.30A4.0,4.0 0 0 1 567.36,285.06Z" fill="#000"/>
<circle cx="572.8" cy="286.30" r="4.0" fill="#fff" stroke="#858585" stroke-width="0.75"/>
<path d="M572.8,286.30L572.8,282.30A4.0,4.0 0 0 1 576.80,286.30Z" fill="#000"/>
<circle cx="601.0" cy="286.30" r="4.0" fill="#fff" stroke="#858585" stroke-width="0.75"/>
<path d="M601.0,286.30L601.0,282.30A4.0,4.0 0 0 1 603.35,289.54Z" fill="#000"/>
<text x="0" y="0" font-size="5.5" text-anchor="end" fill="#1a1a1a" stroke="#1a1a1a" stroke-width="0.15" transform="translate(665.9 287.50) scale(0.95 1)">(25.9 %)</text>
<circle cx="290.26" cy="294.90" r="4.0" fill="#fff" stroke="#858585" stroke-width="0.75"/>
<path d="M290.26,294.90L290.26,290.90A4.0,4.0 0 1 1 289.02,298.70Z" fill="#000"/>
<circle cx="364.52" cy="294.90" r="4.0" fill="#fff" stroke="#858585" stroke-width="0.75"/>
<path d="M364.52,294.90L364.52,290.90A4.0,4.0 0 0 1 366.87,298.14Z" fill="#000"/>
<circle cx="380.79" cy="294.90" r="4.0" fill="#fff" stroke="#858585" stroke-width="0.75"/>
<path d="M380.79,294.90L380.79,290.90A4.0,4.0 0 0 1 383.14,298.14Z" fill="#000"/>
<circle cx="405.59" cy="294.90" r="4.0" fill="#fff" stroke="#858585" stroke-width="0.75"/>
<path d="M405.59,294.90L405.59,290.90A4.0,4.0 0 0 1 409.39,296.14Z" fill="#000"/>
<circle cx="435.46" cy="294.90" r="4.0" fill="#fff" stroke="#858585" stroke-width="0.75"/>
<path d="M435.46,294.90L435.46,290.90A4.0,4.0 0 0 1 437.81,291.66Z" fill="#000"/>
<circle cx="471.09" cy="294.90" r="4.0" fill="#fff" stroke="#858585" stroke-width="0.75"/>
<path d="M471.09,294.90L471.09,290.90A4.0,4.0 0 1 1 467.09,294.90Z" fill="#000"/>
<circle cx="484.34" cy="294.90" r="4.0" fill="#fff" stroke="#858585" stroke-width="0.75"/>
<path d="M484.34,294.90L484.34,290.90A4.0,4.0 0 0 1 486.69,298.14Z" fill="#000"/>
<circle cx="496.97" cy="294.90" r="4.0" fill="#fff" stroke="#858585" stroke-width="0.75"/>
<path d="M496.97,294.90L496.97,290.90A4.0,4.0 0 0 1 499.32,291.66Z" fill="#000"/>
<circle cx="519.35" cy="294.90" r="4.0" fill="#fff" stroke="#858585" stroke-width="0.75"/>
<path d="M519.35,294.90L519.35,290.90A4.0,4.0 0 0 1 521.70,291.66Z" fill="#000"/>
<circle cx="534.15" cy="294.90" r="4.0" fill="#fff" stroke="#858585" stroke-width="0.75"/>
<path d="M534.15,294.90L534.15,290.90A4.0,4.0 0 0 1 535.39,291.10Z" fill="#000"/>
<circle cx="563.57" cy="294.90" r="4.0" fill="#fff" stroke="#858585" stroke-width="0.75"/>
<path d="M563.57,294.90L563.57,290.90A4.0,4.0 0 0 1 564.81,291.10Z" fill="#000"/>
<circle cx="572.83" cy="294.90" r="4.0" fill="#fff" stroke="#858585" stroke-width="0.75"/>
<path d="M572.83,294.90L572.83,290.90A4.0,4.0 0 0 1 574.07,291.10Z" fill="#000"/>
<circle cx="600.98" cy="294.90" r="4.0" fill="#fff" stroke="#858585" stroke-width="0.75"/>
<path d="M600.98,294.90L600.98,290.90A4.0,4.0 0 0 1 604.98,294.90Z" fill="#000"/>
<text x="0" y="0" font-size="5.5" text-anchor="end" fill="#1a1a1a" stroke="#1a1a1a" stroke-width="0.15" transform="translate(665.9 296.10) scale(0.95 1)">(26.9 %)</text>
<circle cx="290.27" cy="303.70" r="4.0" fill="#fff" stroke="#858585" stroke-width="0.75"/>
<path d="M290.27,303.70L290.27,299.70A4.0,4.0 0 0 1 290.27,307.70Z" fill="#000"/>
<circle cx="364.52" cy="303.70" r="4.0" fill="#fff" stroke="#858585" stroke-width="0.75"/>
<path d="M364.52,303.70L364.52,299.70A4.0,4.0 0 0 1 366.87,300.46Z" fill="#000"/>
<circle cx="380.83" cy="303.70" r="4.0" fill="#fff" stroke="#858585" stroke-width="0.75"/>
<path d="M380.83,303.70L380.83,299.70A4.0,4.0 0 0 1 384.63,304.94Z" fill="#000"/>
<circle cx="405.57" cy="303.70" r="4.0" fill="#fff" stroke="#858585" stroke-width="0.75"/>
<path d="M405.57,303.70L405.57,299.70A4.0,4.0 0 1 1 401.57,303.70Z" fill="#000"/>
<circle cx="435.45" cy="303.70" r="4.0" fill="#fff" stroke="#858585" stroke-width="0.75"/>
<path d="M435.45,303.70L435.45,299.70A4.0,4.0 0 0 1 436.44,299.83Z" fill="#000"/>
<circle cx="471.07" cy="303.70" r="4.0" fill="#fff" stroke="#858585" stroke-width="0.75"/>
<path d="M471.07,303.70L471.07,299.70A4.0,4.0 0 0 1 473.42,300.46Z" fill="#000"/>
<circle cx="484.33" cy="303.70" r="4.0" fill="#fff" stroke="#858585" stroke-width="0.75"/>
<path d="M484.33,303.70L484.33,299.70A4.0,4.0 0 0 1 486.68,300.46Z" fill="#000"/>
<circle cx="496.98" cy="303.70" r="4.0" fill="#fff" stroke="#858585" stroke-width="0.75"/>
<path d="M496.98,303.70L496.98,299.70A4.0,4.0 0 1 1 492.98,303.70Z" fill="#000"/>
<circle cx="519.35" cy="303.70" r="4.0" fill="#fff" stroke="#858585" stroke-width="0.75"/>
<path d="M519.35,303.70L519.35,299.70A4.0,4.0 0 0 1 523.15,302.46Z" fill="#000"/>
<circle cx="534.15" cy="303.70" r="4.0" fill="#fff" stroke="#858585" stroke-width="0.75"/>
<path d="M534.15,303.70L534.15,299.70A4.0,4.0 0 0 1 535.39,299.90Z" fill="#000"/>
<circle cx="563.58" cy="303.70" r="4.0" fill="#fff" stroke="#858585" stroke-width="0.75"/>
<path d="M563.58,303.70L563.58,299.70A4.0,4.0 0 0 1 564.82,307.50Z" fill="#000"/>
<circle cx="572.85" cy="303.70" r="4.0" fill="#fff" stroke="#858585" stroke-width="0.75"/>
<path d="M572.85,303.70L572.85,299.70A4.0,4.0 0 0 1 575.20,300.46Z" fill="#000"/>
<circle cx="600.95" cy="303.70" r="4.0" fill="#fff" stroke="#858585" stroke-width="0.75"/>
<path d="M600.95,303.70L600.95,299.70A4.0,4.0 0 0 1 603.30,300.46Z" fill="#000"/>
<text x="0" y="0" font-size="5.5" text-anchor="end" fill="#1a1a1a" stroke="#1a1a1a" stroke-width="0.15" transform="translate(665.9 304.90) scale(0.95 1)">(27.0 %)</text>
<circle cx="290.29" cy="313.30" r="4.0" fill="#fff" stroke="#858585" stroke-width="0.75"/>
<path d="M290.29,313.30L290.29,309.30A4.0,4.0 0 0 1 292.64,316.54Z" fill="#000"/>
<circle cx="364.53" cy="313.30" r="4.0" fill="#fff" stroke="#858585" stroke-width="0.75"/>
<path d="M364.53,313.30L364.53,309.30A4.0,4.0 0 1 1 361.29,310.95Z" fill="#000"/>
<circle cx="380.86" cy="313.30" r="4.0" fill="#fff" stroke="#858585" stroke-width="0.75"/>

<circle cx="405.56" cy="313.30" r="4.0" fill="#fff" stroke="#858585" stroke-width="0.75"/>

<circle cx="435.44" cy="313.30" r="4.0" fill="#fff" stroke="#858585" stroke-width="0.75"/>

<circle cx="471.06" cy="313.30" r="4.0" fill="#fff" stroke="#858585" stroke-width="0.75"/>
<path d="M471.06,313.30L471.06,309.30A4.0,4.0 0 1 1 467.82,310.95Z" fill="#000"/>
<circle cx="484.31" cy="313.30" r="4.0" fill="#fff" stroke="#858585" stroke-width="0.75"/>

<circle cx="496.98" cy="313.30" r="4.0" fill="#fff" stroke="#858585" stroke-width="0.75"/>
<path d="M496.98,313.30L496.98,309.30A4.0,4.0 0 1 1 495.74,309.50Z" fill="#000"/>
<circle cx="519.35" cy="313.30" r="4.0" fill="#fff" stroke="#858585" stroke-width="0.75"/>
<path d="M519.35,313.30L519.35,309.30A4.0,4.0 0 1 1 516.11,310.95Z" fill="#000"/>
<circle cx="534.15" cy="313.30" r="4.0" fill="#fff" stroke="#858585" stroke-width="0.75"/>

<circle cx="563.58" cy="313.30" r="4.0" fill="#fff" stroke="#858585" stroke-width="0.75"/>

<circle cx="572.88" cy="313.30" r="4.0" fill="#fff" stroke="#858585" stroke-width="0.75"/>

<circle cx="600.92" cy="313.30" r="4.0" fill="#fff" stroke="#858585" stroke-width="0.75"/>

<text x="0" y="0" font-size="5.5" text-anchor="end" fill="#1a1a1a" stroke="#1a1a1a" stroke-width="0.15" transform="translate(665.9 314.50) scale(0.95 1)">(27.2 %)</text>
<circle cx="290.31" cy="322.80" r="4.0" fill="#fff" stroke="#858585" stroke-width="0.75"/>
<path d="M290.31,322.80L290.31,318.80A4.0,4.0 0 0 1 293.55,325.15Z" fill="#000"/>
<circle cx="364.54" cy="322.80" r="4.0" fill="#fff" stroke="#858585" stroke-width="0.75"/>
<path d="M364.54,322.80L364.54,318.80A4.0,4.0 0 0 1 368.34,324.04Z" fill="#000"/>
<circle cx="380.9" cy="322.80" r="4.0" fill="#fff" stroke="#858585" stroke-width="0.75"/>
<path d="M380.9,322.80L380.9,318.80A4.0,4.0 0 0 1 384.90,322.80Z" fill="#000"/>
<circle cx="405.55" cy="322.80" r="4.0" fill="#fff" stroke="#858585" stroke-width="0.75"/>
<path d="M405.55,322.80L405.55,318.80A4.0,4.0 0 0 1 408.79,325.15Z" fill="#000"/>
<circle cx="435.43" cy="322.80" r="4.0" fill="#fff" stroke="#858585" stroke-width="0.75"/>
<path d="M435.43,322.80L435.43,318.80A4.0,4.0 0 0 1 438.17,319.88Z" fill="#000"/>
<circle cx="471.05" cy="322.80" r="4.0" fill="#fff" stroke="#858585" stroke-width="0.75"/>
<path d="M471.05,322.80L471.05,318.80A4.0,4.0 0 0 1 474.85,324.04Z" fill="#000"/>
<circle cx="484.29" cy="322.80" r="4.0" fill="#fff" stroke="#858585" stroke-width="0.75"/>
<path d="M484.29,322.80L484.29,318.80A4.0,4.0 0 0 1 488.29,322.80Z" fill="#000"/>
<circle cx="496.99" cy="322.80" r="4.0" fill="#fff" stroke="#858585" stroke-width="0.75"/>
<path d="M496.99,322.80L496.99,318.80A4.0,4.0 0 0 1 500.79,321.56Z" fill="#000"/>
<circle cx="519.36" cy="322.80" r="4.0" fill="#fff" stroke="#858585" stroke-width="0.75"/>
<path d="M519.36,322.80L519.36,318.80A4.0,4.0 0 0 1 523.16,324.04Z" fill="#000"/>
<circle cx="534.16" cy="322.80" r="4.0" fill="#fff" stroke="#858585" stroke-width="0.75"/>
<path d="M534.16,322.80L534.16,318.80A4.0,4.0 0 0 1 537.40,325.15Z" fill="#000"/>
<circle cx="563.59" cy="322.80" r="4.0" fill="#fff" stroke="#858585" stroke-width="0.75"/>
<path d="M563.59,322.80L563.59,318.80A4.0,4.0 0 0 1 567.39,324.04Z" fill="#000"/>
<circle cx="572.9" cy="322.80" r="4.0" fill="#fff" stroke="#858585" stroke-width="0.75"/>
<path d="M572.9,322.80L572.9,318.80A4.0,4.0 0 0 1 576.70,324.04Z" fill="#000"/>
<circle cx="600.9" cy="322.80" r="4.0" fill="#fff" stroke="#858585" stroke-width="0.75"/>
<path d="M600.9,322.80L600.9,318.80A4.0,4.0 0 0 1 602.14,319.00Z" fill="#000"/>
<text x="0" y="0" font-size="5.5" text-anchor="end" fill="#1a1a1a" stroke="#1a1a1a" stroke-width="0.15" transform="translate(665.9 324.00) scale(0.95 1)">(27.6 %)</text>
<circle cx="290.32" cy="332.30" r="4.0" fill="#fff" stroke="#858585" stroke-width="0.75"/>

<circle cx="364.55" cy="332.30" r="4.0" fill="#fff" stroke="#858585" stroke-width="0.75"/>

<circle cx="380.94" cy="332.30" r="4.0" fill="#fff" stroke="#858585" stroke-width="0.75"/>

<circle cx="405.54" cy="332.30" r="4.0" fill="#fff" stroke="#858585" stroke-width="0.75"/>
<path d="M405.54,332.30L405.54,328.30A4.0,4.0 0 0 1 405.54,336.30Z" fill="#000"/>
<circle cx="435.42" cy="332.30" r="4.0" fill="#fff" stroke="#858585" stroke-width="0.75"/>
<path d="M435.42,332.30L435.42,328.30A4.0,4.0 0 1 1 434.18,336.10Z" fill="#000"/>
<circle cx="471.04" cy="332.30" r="4.0" fill="#fff" stroke="#858585" stroke-width="0.75"/>
<path d="M471.04,332.30L471.04,328.30A4.0,4.0 0 1 1 467.80,329.95Z" fill="#000"/>
<circle cx="484.28" cy="332.30" r="4.0" fill="#fff" stroke="#858585" stroke-width="0.75"/>
<path d="M484.28,332.30L484.28,328.30A4.0,4.0 0 1 1 481.04,329.95Z" fill="#000"/>
<circle cx="496.99" cy="332.30" r="4.0" fill="#fff" stroke="#858585" stroke-width="0.75"/>

<circle cx="519.36" cy="332.30" r="4.0" fill="#fff" stroke="#858585" stroke-width="0.75"/>
<path d="M519.36,332.30L519.36,328.30A4.0,4.0 0 0 1 520.60,336.10Z" fill="#000"/>
<circle cx="534.16" cy="332.30" r="4.0" fill="#fff" stroke="#858585" stroke-width="0.75"/>
<path d="M534.16,332.30L534.16,328.30A4.0,4.0 0 0 1 537.40,334.65Z" fill="#000"/>
<circle cx="563.59" cy="332.30" r="4.0" fill="#fff" stroke="#858585" stroke-width="0.75"/>
<path d="M563.59,332.30L563.59,328.30A4.0,4.0 0 0 1 564.83,328.50Z" fill="#000"/>
<circle cx="572.93" cy="332.30" r="4.0" fill="#fff" stroke="#858585" stroke-width="0.75"/>
<path d="M572.93,332.30L572.93,328.30A4.0,4.0 0 0 1 576.93,332.30Z" fill="#000"/>
<circle cx="600.88" cy="332.30" r="4.0" fill="#fff" stroke="#858585" stroke-width="0.75"/>

<text x="0" y="0" font-size="5.5" text-anchor="end" fill="#1a1a1a" stroke="#1a1a1a" stroke-width="0.15" transform="translate(665.9 333.50) scale(0.95 1)">(28.6 %)</text>
<circle cx="290.34" cy="341.20" r="4.0" fill="#fff" stroke="#858585" stroke-width="0.75"/>
<path d="M290.34,341.20L290.34,337.20A4.0,4.0 0 0 1 290.34,345.20Z" fill="#000"/>
<circle cx="364.56" cy="341.20" r="4.0" fill="#fff" stroke="#858585" stroke-width="0.75"/>
<path d="M364.56,341.20L364.56,337.20A4.0,4.0 0 0 1 366.91,344.44Z" fill="#000"/>
<circle cx="380.98" cy="341.20" r="4.0" fill="#fff" stroke="#858585" stroke-width="0.75"/>
<path d="M380.98,341.20L380.98,337.20A4.0,4.0 0 0 1 383.33,344.44Z" fill="#000"/>
<circle cx="405.52" cy="341.20" r="4.0" fill="#fff" stroke="#858585" stroke-width="0.75"/>
<path d="M405.52,341.20L405.52,337.20A4.0,4.0 0 0 1 407.87,344.44Z" fill="#000"/>
<circle cx="435.41" cy="341.20" r="4.0" fill="#fff" stroke="#858585" stroke-width="0.75"/>
<path d="M435.41,341.20L435.41,337.20A4.0,4.0 0 0 1 437.76,337.96Z" fill="#000"/>
<circle cx="471.02" cy="341.20" r="4.0" fill="#fff" stroke="#858585" stroke-width="0.75"/>
<path d="M471.02,341.20L471.02,337.20A4.0,4.0 0 0 1 474.82,342.44Z" fill="#000"/>
<circle cx="484.26" cy="341.20" r="4.0" fill="#fff" stroke="#858585" stroke-width="0.75"/>
<path d="M484.26,341.20L484.26,337.20A4.0,4.0 0 0 1 485.50,345.00Z" fill="#000"/>
<circle cx="497.0" cy="341.20" r="4.0" fill="#fff" stroke="#858585" stroke-width="0.75"/>
<path d="M497.0,341.20L497.0,337.20A4.0,4.0 0 0 1 499.35,344.44Z" fill="#000"/>
<circle cx="519.36" cy="341.20" r="4.0" fill="#fff" stroke="#858585" stroke-width="0.75"/>
<path d="M519.36,341.20L519.36,337.20A4.0,4.0 0 0 1 522.10,344.12Z" fill="#000"/>
<circle cx="534.16" cy="341.20" r="4.0" fill="#fff" stroke="#858585" stroke-width="0.75"/>
<path d="M534.16,341.20L534.16,337.20A4.0,4.0 0 0 1 536.51,344.44Z" fill="#000"/>
<circle cx="563.6" cy="341.20" r="4.0" fill="#fff" stroke="#858585" stroke-width="0.75"/>
<path d="M563.6,341.20L563.6,337.20A4.0,4.0 0 0 1 564.59,337.33Z" fill="#000"/>
<circle cx="572.95" cy="341.20" r="4.0" fill="#fff" stroke="#858585" stroke-width="0.75"/>

<circle cx="600.85" cy="341.20" r="4.0" fill="#fff" stroke="#858585" stroke-width="0.75"/>
<path d="M600.85,341.20L600.85,337.20A4.0,4.0 0 0 1 604.78,340.45Z" fill="#000"/>
<text x="0" y="0" font-size="5.5" text-anchor="end" fill="#1a1a1a" stroke="#1a1a1a" stroke-width="0.15" transform="translate(665.9 342.40) scale(0.95 1)">(30.9 %)</text>
<circle cx="290.36" cy="349.90" r="4.0" fill="#fff" stroke="#858585" stroke-width="0.75"/>
<path d="M290.36,349.90L290.36,345.90A4.0,4.0 0 1 1 286.56,348.66Z" fill="#000"/>
<circle cx="364.57" cy="349.90" r="4.0" fill="#fff" stroke="#858585" stroke-width="0.75"/>
<path d="M364.57,349.90L364.57,345.90A4.0,4.0 0 1 1 360.57,349.90Z" fill="#000"/>
<circle cx="381.01" cy="349.90" r="4.0" fill="#fff" stroke="#858585" stroke-width="0.75"/>
<path d="M381.01,349.90L381.01,345.90A4.0,4.0 0 1 1 378.66,353.14Z" fill="#000"/>
<circle cx="405.51" cy="349.90" r="4.0" fill="#fff" stroke="#858585" stroke-width="0.75"/>
<path d="M405.51,349.90L405.51,345.90A4.0,4.0 0 1 1 401.51,349.90Z" fill="#000"/>
<circle cx="435.4" cy="349.90" r="4.0" fill="#fff" stroke="#858585" stroke-width="0.75"/>
<path d="M435.4,349.90L435.4,345.90A4.0,4.0 0 0 1 436.64,346.10Z" fill="#000"/>
<circle cx="471.01" cy="349.90" r="4.0" fill="#fff" stroke="#858585" stroke-width="0.75"/>
<path d="M471.01,349.90L471.01,345.90A4.0,4.0 0 0 1 472.25,346.10Z" fill="#000"/>
<circle cx="484.24" cy="349.90" r="4.0" fill="#fff" stroke="#858585" stroke-width="0.75"/>
<path d="M484.24,349.90L484.24,345.90A4.0,4.0 0 1 1 480.24,349.90Z" fill="#000"/>
<circle cx="497.0" cy="349.90" r="4.0" fill="#fff" stroke="#858585" stroke-width="0.75"/>
<path d="M497.0,349.90L497.0,345.90A4.0,4.0 0 0 1 498.24,346.10Z" fill="#000"/>
<circle cx="519.37" cy="349.90" r="4.0" fill="#fff" stroke="#858585" stroke-width="0.75"/>
<path d="M519.37,349.90L519.37,345.90A4.0,4.0 0 0 1 521.72,353.14Z" fill="#000"/>
<circle cx="534.17" cy="349.90" r="4.0" fill="#fff" stroke="#858585" stroke-width="0.75"/>
<path d="M534.17,349.90L534.17,345.90A4.0,4.0 0 0 1 535.41,346.10Z" fill="#000"/>
<circle cx="563.6" cy="349.90" r="4.0" fill="#fff" stroke="#858585" stroke-width="0.75"/>
<path d="M563.6,349.90L563.6,345.90A4.0,4.0 0 0 1 564.59,346.03Z" fill="#000"/>
<circle cx="572.98" cy="349.90" r="4.0" fill="#fff" stroke="#858585" stroke-width="0.75"/>
<path d="M572.98,349.90L572.98,345.90A4.0,4.0 0 0 1 574.91,346.39Z" fill="#000"/>
<circle cx="600.83" cy="349.90" r="4.0" fill="#fff" stroke="#858585" stroke-width="0.75"/>
<path d="M600.83,349.90L600.83,345.90A4.0,4.0 0 0 1 602.76,346.39Z" fill="#000"/>
<text x="0" y="0" font-size="5.5" text-anchor="end" fill="#1a1a1a" stroke="#1a1a1a" stroke-width="0.15" transform="translate(665.9 351.10) scale(0.95 1)">(31.2 %)</text>
<circle cx="290.37" cy="359.40" r="4.0" fill="#fff" stroke="#858585" stroke-width="0.75"/>
<path d="M290.37,359.40L290.37,355.40A4.0,4.0 0 0 1 294.37,359.40Z" fill="#000"/>
<circle cx="364.58" cy="359.40" r="4.0" fill="#fff" stroke="#858585" stroke-width="0.75"/>
<path d="M364.58,359.40L364.58,355.40A4.0,4.0 0 0 1 367.82,361.75Z" fill="#000"/>
<circle cx="381.05" cy="359.40" r="4.0" fill="#fff" stroke="#858585" stroke-width="0.75"/>
<path d="M381.05,359.40L381.05,355.40A4.0,4.0 0 0 1 384.85,360.64Z" fill="#000"/>
<circle cx="405.5" cy="359.40" r="4.0" fill="#fff" stroke="#858585" stroke-width="0.75"/>
<path d="M405.5,359.40L405.5,355.40A4.0,4.0 0 0 1 406.25,355.47Z" fill="#000"/>
<circle cx="435.39" cy="359.40" r="4.0" fill="#fff" stroke="#858585" stroke-width="0.75"/>
<path d="M435.39,359.40L435.39,355.40A4.0,4.0 0 0 1 437.32,355.89Z" fill="#000"/>
<circle cx="471.0" cy="359.40" r="4.0" fill="#fff" stroke="#858585" stroke-width="0.75"/>
<path d="M471.0,359.40L471.0,355.40A4.0,4.0 0 1 1 468.65,362.64Z" fill="#000"/>
<circle cx="484.23" cy="359.40" r="4.0" fill="#fff" stroke="#858585" stroke-width="0.75"/>
<path d="M484.23,359.40L484.23,355.40A4.0,4.0 0 1 1 480.99,361.75Z" fill="#000"/>
<circle cx="497.01" cy="359.40" r="4.0" fill="#fff" stroke="#858585" stroke-width="0.75"/>
<path d="M497.01,359.40L497.01,355.40A4.0,4.0 0 0 1 499.36,362.64Z" fill="#000"/>
<circle cx="519.37" cy="359.40" r="4.0" fill="#fff" stroke="#858585" stroke-width="0.75"/>
<path d="M519.37,359.40L519.37,355.40A4.0,4.0 0 0 1 522.99,361.10Z" fill="#000"/>
<circle cx="534.17" cy="359.40" r="4.0" fill="#fff" stroke="#858585" stroke-width="0.75"/>
<path d="M534.17,359.40L534.17,355.40A4.0,4.0 0 0 1 536.10,355.89Z" fill="#000"/>
<circle cx="563.61" cy="359.40" r="4.0" fill="#fff" stroke="#858585" stroke-width="0.75"/>
<path d="M563.61,359.40L563.61,355.40A4.0,4.0 0 0 1 566.85,357.05Z" fill="#000"/>
<circle cx="573.0" cy="359.40" r="4.0" fill="#fff" stroke="#858585" stroke-width="0.75"/>
<path d="M573.0,359.40L573.0,355.40A4.0,4.0 0 0 1 573.00,363.40Z" fill="#000"/>
<circle cx="600.8" cy="359.40" r="4.0" fill="#fff" stroke="#858585" stroke-width="0.75"/>
<path d="M600.8,359.40L600.8,355.40A4.0,4.0 0 0 1 602.04,363.20Z" fill="#000"/>
<text x="0" y="0" font-size="5.5" text-anchor="end" fill="#1a1a1a" stroke="#1a1a1a" stroke-width="0.15" transform="translate(665.9 360.60) scale(0.95 1)">(32.3 %)</text>
<circle cx="290.39" cy="368.50" r="4.0" fill="#fff" stroke="#858585" stroke-width="0.75"/>
<path d="M290.39,368.50L290.39,364.50A4.0,4.0 0 0 1 292.74,371.74Z" fill="#000"/>
<circle cx="364.59" cy="368.50" r="4.0" fill="#fff" stroke="#858585" stroke-width="0.75"/>
<path d="M364.59,368.50L364.59,364.50A4.0,4.0 0 0 1 367.83,370.85Z" fill="#000"/>
<circle cx="381.09" cy="368.50" r="4.0" fill="#fff" stroke="#858585" stroke-width="0.75"/>
<path d="M381.09,368.50L381.09,364.50A4.0,4.0 0 1 1 377.09,368.50Z" fill="#000"/>
<circle cx="405.49" cy="368.50" r="4.0" fill="#fff" stroke="#858585" stroke-width="0.75"/>
<path d="M405.49,368.50L405.49,364.50A4.0,4.0 0 0 1 409.29,369.74Z" fill="#000"/>
<circle cx="435.38" cy="368.50" r="4.0" fill="#fff" stroke="#858585" stroke-width="0.75"/>
<path d="M435.38,368.50L435.38,364.50A4.0,4.0 0 0 1 439.38,368.50Z" fill="#000"/>
<circle cx="470.99" cy="368.50" r="4.0" fill="#fff" stroke="#858585" stroke-width="0.75"/>
<path d="M470.99,368.50L470.99,364.50A4.0,4.0 0 0 1 474.79,369.74Z" fill="#000"/>
<circle cx="484.21" cy="368.50" r="4.0" fill="#fff" stroke="#858585" stroke-width="0.75"/>
<path d="M484.21,368.50L484.21,364.50A4.0,4.0 0 0 1 487.45,370.85Z" fill="#000"/>
<circle cx="497.01" cy="368.50" r="4.0" fill="#fff" stroke="#858585" stroke-width="0.75"/>
<path d="M497.01,368.50L497.01,364.50A4.0,4.0 0 0 1 500.81,367.26Z" fill="#000"/>
<circle cx="519.38" cy="368.50" r="4.0" fill="#fff" stroke="#858585" stroke-width="0.75"/>
<path d="M519.38,368.50L519.38,364.50A4.0,4.0 0 0 1 522.62,370.85Z" fill="#000"/>
<circle cx="534.18" cy="368.50" r="4.0" fill="#fff" stroke="#858585" stroke-width="0.75"/>
<path d="M534.18,368.50L534.18,364.50A4.0,4.0 0 0 1 537.42,366.15Z" fill="#000"/>
<circle cx="563.61" cy="368.50" r="4.0" fill="#fff" stroke="#858585" stroke-width="0.75"/>
<path d="M563.61,368.50L563.61,364.50A4.0,4.0 0 0 1 566.85,370.85Z" fill="#000"/>
<circle cx="573.03" cy="368.50" r="4.0" fill="#fff" stroke="#858585" stroke-width="0.75"/>
<path d="M573.03,368.50L573.03,364.50A4.0,4.0 0 1 1 571.79,372.30Z" fill="#000"/>
<circle cx="600.77" cy="368.50" r="4.0" fill="#fff" stroke="#858585" stroke-width="0.75"/>
<path d="M600.77,368.50L600.77,364.50A4.0,4.0 0 0 1 604.77,368.50Z" fill="#000"/>
<text x="0" y="0" font-size="5.5" text-anchor="end" fill="#1a1a1a" stroke="#1a1a1a" stroke-width="0.15" transform="translate(665.9 369.70) scale(0.95 1)">(34.3 %)</text>
<circle cx="290.4" cy="377.30" r="4.0" fill="#fff" stroke="#858585" stroke-width="0.75"/>
<path d="M290.4,377.30L290.4,373.30A4.0,4.0 0 0 1 291.64,381.10Z" fill="#000"/>
<circle cx="364.6" cy="377.30" r="4.0" fill="#fff" stroke="#858585" stroke-width="0.75"/>
<path d="M364.6,377.30L364.6,373.30A4.0,4.0 0 0 1 368.40,378.54Z" fill="#000"/>
<circle cx="381.12" cy="377.30" r="4.0" fill="#fff" stroke="#858585" stroke-width="0.75"/>
<path d="M381.12,377.30L381.12,373.30A4.0,4.0 0 0 1 384.92,378.54Z" fill="#000"/>
<circle cx="405.47" cy="377.30" r="4.0" fill="#fff" stroke="#858585" stroke-width="0.75"/>
<path d="M405.47,377.30L405.47,373.30A4.0,4.0 0 0 1 405.47,381.30Z" fill="#000"/>
<circle cx="435.36" cy="377.30" r="4.0" fill="#fff" stroke="#858585" stroke-width="0.75"/>
<path d="M435.36,377.30L435.36,373.30A4.0,4.0 0 0 1 436.60,373.50Z" fill="#000"/>
<circle cx="470.97" cy="377.30" r="4.0" fill="#fff" stroke="#858585" stroke-width="0.75"/>
<path d="M470.97,377.30L470.97,373.30A4.0,4.0 0 1 1 467.73,374.95Z" fill="#000"/>
<circle cx="484.2" cy="377.30" r="4.0" fill="#fff" stroke="#858585" stroke-width="0.75"/>
<path d="M484.2,377.30L484.2,373.30A4.0,4.0 0 0 1 486.55,380.54Z" fill="#000"/>
<circle cx="497.02" cy="377.30" r="4.0" fill="#fff" stroke="#858585" stroke-width="0.75"/>
<path d="M497.02,377.30L497.02,373.30A4.0,4.0 0 0 1 499.37,380.54Z" fill="#000"/>
<circle cx="519.38" cy="377.30" r="4.0" fill="#fff" stroke="#858585" stroke-width="0.75"/>
<path d="M519.38,377.30L519.38,373.30A4.0,4.0 0 0 1 521.31,380.81Z" fill="#000"/>
<circle cx="534.18" cy="377.30" r="4.0" fill="#fff" stroke="#858585" stroke-width="0.75"/>
<path d="M534.18,377.30L534.18,373.30A4.0,4.0 0 0 1 537.42,379.65Z" fill="#000"/>
<circle cx="563.62" cy="377.30" r="4.0" fill="#fff" stroke="#858585" stroke-width="0.75"/>
<path d="M563.62,377.30L563.62,373.30A4.0,4.0 0 0 1 567.62,377.30Z" fill="#000"/>
<circle cx="573.05" cy="377.30" r="4.0" fill="#fff" stroke="#858585" stroke-width="0.75"/>
<path d="M573.05,377.30L573.05,373.30A4.0,4.0 0 0 1 577.05,377.30Z" fill="#000"/>
<circle cx="600.75" cy="377.30" r="4.0" fill="#fff" stroke="#858585" stroke-width="0.75"/>
<path d="M600.75,377.30L600.75,373.30A4.0,4.0 0 0 1 604.75,377.30Z" fill="#000"/>
<text x="0" y="0" font-size="5.5" text-anchor="end" fill="#1a1a1a" stroke="#1a1a1a" stroke-width="0.15" transform="translate(665.9 378.50) scale(0.95 1)">(37.2 %)</text>
<circle cx="290.42" cy="386.10" r="4.0" fill="#fff" stroke="#858585" stroke-width="0.75"/>
<path d="M290.42,386.10L290.42,382.10A4.0,4.0 0 1 1 286.62,384.86Z" fill="#000"/>
<circle cx="364.61" cy="386.10" r="4.0" fill="#fff" stroke="#858585" stroke-width="0.75"/>
<path d="M364.61,386.10L364.61,382.10A4.0,4.0 0 0 1 368.41,384.86Z" fill="#000"/>
<circle cx="381.16" cy="386.10" r="4.0" fill="#fff" stroke="#858585" stroke-width="0.75"/>
<path d="M381.16,386.10L381.16,382.10A4.0,4.0 0 0 1 385.16,386.10Z" fill="#000"/>
<circle cx="405.46" cy="386.10" r="4.0" fill="#fff" stroke="#858585" stroke-width="0.75"/>
<path d="M405.46,386.10L405.46,382.10A4.0,4.0 0 1 1 401.46,386.10Z" fill="#000"/>
<circle cx="435.35" cy="386.10" r="4.0" fill="#fff" stroke="#858585" stroke-width="0.75"/>
<path d="M435.35,386.10L435.35,382.10A4.0,4.0 0 0 1 435.85,382.13Z" fill="#000"/>
<circle cx="470.96" cy="386.10" r="4.0" fill="#fff" stroke="#858585" stroke-width="0.75"/>
<path d="M470.96,386.10L470.96,382.10A4.0,4.0 0 0 1 472.20,389.90Z" fill="#000"/>
<circle cx="484.18" cy="386.10" r="4.0" fill="#fff" stroke="#858585" stroke-width="0.75"/>
<path d="M484.18,386.10L484.18,382.10A4.0,4.0 0 1 1 480.94,383.75Z" fill="#000"/>
<circle cx="497.02" cy="386.10" r="4.0" fill="#fff" stroke="#858585" stroke-width="0.75"/>
<path d="M497.02,386.10L497.02,382.10A4.0,4.0 0 1 1 494.28,383.18Z" fill="#000"/>
<circle cx="519.38" cy="386.10" r="4.0" fill="#fff" stroke="#858585" stroke-width="0.75"/>
<path d="M519.38,386.10L519.38,382.10A4.0,4.0 0 1 1 515.76,384.40Z" fill="#000"/>
<circle cx="534.18" cy="386.10" r="4.0" fill="#fff" stroke="#858585" stroke-width="0.75"/>
<path d="M534.18,386.10L534.18,382.10A4.0,4.0 0 1 1 531.44,383.18Z" fill="#000"/>
<circle cx="563.62" cy="386.10" r="4.0" fill="#fff" stroke="#858585" stroke-width="0.75"/>
<path d="M563.62,386.10L563.62,382.10A4.0,4.0 0 0 1 567.62,386.10Z" fill="#000"/>
<circle cx="573.08" cy="386.10" r="4.0" fill="#fff" stroke="#858585" stroke-width="0.75"/>
<path d="M573.08,386.10L573.08,382.10A4.0,4.0 0 0 1 577.08,386.10Z" fill="#000"/>
<circle cx="600.73" cy="386.10" r="4.0" fill="#fff" stroke="#858585" stroke-width="0.75"/>
<path d="M600.73,386.10L600.73,382.10A4.0,4.0 0 0 1 604.53,384.86Z" fill="#000"/>
<text x="0" y="0" font-size="5.5" text-anchor="end" fill="#1a1a1a" stroke="#1a1a1a" stroke-width="0.15" transform="translate(665.9 387.30) scale(0.95 1)">(49.4 %)</text>
<circle cx="290.44" cy="395.20" r="4.0" fill="#fff" stroke="#858585" stroke-width="0.75"/>
<path d="M290.44,395.20L290.44,391.20A4.0,4.0 0 0 1 294.24,396.44Z" fill="#000"/>
<circle cx="364.61" cy="395.20" r="4.0" fill="#fff" stroke="#858585" stroke-width="0.75"/>
<path d="M364.61,395.20L364.61,391.20A4.0,4.0 0 0 1 368.61,395.20Z" fill="#000"/>
<circle cx="381.2" cy="395.20" r="4.0" fill="#fff" stroke="#858585" stroke-width="0.75"/>
<path d="M381.2,395.20L381.2,391.20A4.0,4.0 0 0 1 385.20,395.20Z" fill="#000"/>
<circle cx="405.45" cy="395.20" r="4.0" fill="#fff" stroke="#858585" stroke-width="0.75"/>
<path d="M405.45,395.20L405.45,391.20A4.0,4.0 0 0 1 405.45,399.20Z" fill="#000"/>
<circle cx="435.34" cy="395.20" r="4.0" fill="#fff" stroke="#858585" stroke-width="0.75"/>
<path d="M435.34,395.20L435.34,391.20A4.0,4.0 0 0 1 436.58,391.40Z" fill="#000"/>
<circle cx="470.95" cy="395.20" r="4.0" fill="#fff" stroke="#858585" stroke-width="0.75"/>
<path d="M470.95,395.20L470.95,391.20A4.0,4.0 0 0 1 472.19,399.00Z" fill="#000"/>
<circle cx="484.16" cy="395.20" r="4.0" fill="#fff" stroke="#858585" stroke-width="0.75"/>
<path d="M484.16,395.20L484.16,391.20A4.0,4.0 0 1 1 480.92,392.85Z" fill="#000"/>
<circle cx="497.03" cy="395.20" r="4.0" fill="#fff" stroke="#858585" stroke-width="0.75"/>
<path d="M497.03,395.20L497.03,391.20A4.0,4.0 0 1 1 495.10,391.69Z" fill="#000"/>
<circle cx="519.39" cy="395.20" r="4.0" fill="#fff" stroke="#858585" stroke-width="0.75"/>
<path d="M519.39,395.20L519.39,391.20A4.0,4.0 0 1 1 516.15,392.85Z" fill="#000"/>
<circle cx="534.19" cy="395.20" r="4.0" fill="#fff" stroke="#858585" stroke-width="0.75"/>
<path d="M534.19,395.20L534.19,391.20A4.0,4.0 0 1 1 532.95,391.40Z" fill="#000"/>
<circle cx="563.63" cy="395.20" r="4.0" fill="#fff" stroke="#858585" stroke-width="0.75"/>
<path d="M563.63,395.20L563.63,391.20A4.0,4.0 0 0 1 564.87,391.40Z" fill="#000"/>
<circle cx="573.1" cy="395.20" r="4.0" fill="#fff" stroke="#858585" stroke-width="0.75"/>
<path d="M573.1,395.20L573.1,391.20A4.0,4.0 0 1 1 569.86,392.85Z" fill="#000"/>
<circle cx="600.7" cy="395.20" r="4.0" fill="#fff" stroke="#858585" stroke-width="0.75"/>
<path d="M600.7,395.20L600.7,391.20A4.0,4.0 0 0 1 603.94,397.55Z" fill="#000"/>
<text x="0" y="0" font-size="5.5" text-anchor="end" fill="#1a1a1a" stroke="#1a1a1a" stroke-width="0.15" transform="translate(665.9 396.40) scale(0.95 1)">(50.7 %)</text>
<circle cx="290.45" cy="404.10" r="4.0" fill="#fff" stroke="#858585" stroke-width="0.75"/>
<path d="M290.45,404.10L290.45,400.10A4.0,4.0 0 0 1 290.45,408.10Z" fill="#000"/>
<circle cx="364.62" cy="404.10" r="4.0" fill="#fff" stroke="#858585" stroke-width="0.75"/>
<path d="M364.62,404.10L364.62,400.10A4.0,4.0 0 1 1 360.62,404.10Z" fill="#000"/>
<circle cx="381.24" cy="404.10" r="4.0" fill="#fff" stroke="#858585" stroke-width="0.75"/>
<path d="M381.24,404.10L381.24,400.10A4.0,4.0 0 1 1 378.00,406.45Z" fill="#000"/>
<circle cx="405.44" cy="404.10" r="4.0" fill="#fff" stroke="#858585" stroke-width="0.75"/>
<path d="M405.44,404.10L405.44,400.10A4.0,4.0 0 1 1 402.20,401.75Z" fill="#000"/>
<circle cx="435.33" cy="404.10" r="4.0" fill="#fff" stroke="#858585" stroke-width="0.75"/>
<path d="M435.33,404.10L435.33,400.10A4.0,4.0 0 0 1 439.33,404.10Z" fill="#000"/>
<circle cx="470.94" cy="404.10" r="4.0" fill="#fff" stroke="#858585" stroke-width="0.75"/>
<path d="M470.94,404.10L470.94,400.10A4.0,4.0 0 0 1 472.18,407.90Z" fill="#000"/>
<circle cx="484.15" cy="404.10" r="4.0" fill="#fff" stroke="#858585" stroke-width="0.75"/>
<path d="M484.15,404.10L484.15,400.10A4.0,4.0 0 1 1 482.91,400.30Z" fill="#000"/>
<circle cx="497.03" cy="404.10" r="4.0" fill="#fff" stroke="#858585" stroke-width="0.75"/>
<path d="M497.03,404.10L497.03,400.10A4.0,4.0 0 0 1 497.03,408.10Z" fill="#000"/>
<circle cx="519.39" cy="404.10" r="4.0" fill="#fff" stroke="#858585" stroke-width="0.75"/>
<path d="M519.39,404.10L519.39,400.10A4.0,4.0 0 1 1 515.39,404.10Z" fill="#000"/>
<circle cx="534.19" cy="404.10" r="4.0" fill="#fff" stroke="#858585" stroke-width="0.75"/>
<path d="M534.19,404.10L534.19,400.10A4.0,4.0 0 1 1 531.84,407.34Z" fill="#000"/>
<circle cx="563.63" cy="404.10" r="4.0" fill="#fff" stroke="#858585" stroke-width="0.75"/>
<path d="M563.63,404.10L563.63,400.10A4.0,4.0 0 0 1 567.43,402.86Z" fill="#000"/>
<circle cx="573.12" cy="404.10" r="4.0" fill="#fff" stroke="#858585" stroke-width="0.75"/>
<path d="M573.12,404.10L573.12,400.10A4.0,4.0 0 0 1 577.12,404.10Z" fill="#000"/>
<circle cx="600.68" cy="404.10" r="4.0" fill="#fff" stroke="#858585" stroke-width="0.75"/>
<path d="M600.68,404.10L600.68,400.10A4.0,4.0 0 0 1 604.68,404.10Z" fill="#000"/>
<text x="0" y="0" font-size="5.5" text-anchor="end" fill="#1a1a1a" stroke="#1a1a1a" stroke-width="0.15" transform="translate(665.9 405.30) scale(0.95 1)">(51.8 %)</text>
<circle cx="290.47" cy="413.10" r="4.0" fill="#fff" stroke="#858585" stroke-width="0.75"/>
<path d="M290.47,413.10L290.47,409.10A4.0,4.0 0 0 1 292.82,416.34Z" fill="#000"/>
<circle cx="364.63" cy="413.10" r="4.0" fill="#fff" stroke="#858585" stroke-width="0.75"/>
<path d="M364.63,413.10L364.63,409.10A4.0,4.0 0 0 1 368.63,413.10Z" fill="#000"/>
<circle cx="381.28" cy="413.10" r="4.0" fill="#fff" stroke="#858585" stroke-width="0.75"/>
<path d="M381.28,413.10L381.28,409.10A4.0,4.0 0 0 1 385.28,413.10Z" fill="#000"/>
<circle cx="405.42" cy="413.10" r="4.0" fill="#fff" stroke="#858585" stroke-width="0.75"/>
<path d="M405.42,413.10L405.42,409.10A4.0,4.0 0 1 1 402.18,410.75Z" fill="#000"/>
<circle cx="435.32" cy="413.10" r="4.0" fill="#fff" stroke="#858585" stroke-width="0.75"/>
<path d="M435.32,413.10L435.32,409.10A4.0,4.0 0 0 1 437.25,409.59Z" fill="#000"/>
<circle cx="470.92" cy="413.10" r="4.0" fill="#fff" stroke="#858585" stroke-width="0.75"/>
<path d="M470.92,413.10L470.92,409.10A4.0,4.0 0 1 1 467.68,410.75Z" fill="#000"/>
<circle cx="484.13" cy="413.10" r="4.0" fill="#fff" stroke="#858585" stroke-width="0.75"/>
<path d="M484.13,413.10L484.13,409.10A4.0,4.0 0 1 1 480.33,411.86Z" fill="#000"/>
<circle cx="497.04" cy="413.10" r="4.0" fill="#fff" stroke="#858585" stroke-width="0.75"/>
<path d="M497.04,413.10L497.04,409.10A4.0,4.0 0 1 1 493.24,411.86Z" fill="#000"/>
<circle cx="519.39" cy="413.10" r="4.0" fill="#fff" stroke="#858585" stroke-width="0.75"/>
<path d="M519.39,413.10L519.39,409.10A4.0,4.0 0 1 1 515.59,411.86Z" fill="#000"/>
<circle cx="534.19" cy="413.10" r="4.0" fill="#fff" stroke="#858585" stroke-width="0.75"/>
<path d="M534.19,413.10L534.19,409.10A4.0,4.0 0 1 1 530.39,411.86Z" fill="#000"/>
<circle cx="563.64" cy="413.10" r="4.0" fill="#fff" stroke="#858585" stroke-width="0.75"/>
<path d="M563.64,413.10L563.64,409.10A4.0,4.0 0 0 1 565.99,409.86Z" fill="#000"/>
<circle cx="573.15" cy="413.10" r="4.0" fill="#fff" stroke="#858585" stroke-width="0.75"/>
<path d="M573.15,413.10L573.15,409.10A4.0,4.0 0 1 1 569.15,413.10Z" fill="#000"/>
<circle cx="600.65" cy="413.10" r="4.0" fill="#fff" stroke="#858585" stroke-width="0.75"/>
<path d="M600.65,413.10L600.65,409.10A4.0,4.0 0 1 1 597.41,415.45Z" fill="#000"/>
<text x="0" y="0" font-size="5.5" text-anchor="end" fill="#1a1a1a" stroke="#1a1a1a" stroke-width="0.15" transform="translate(665.9 414.30) scale(0.95 1)">(55.0 %)</text>
<circle cx="290.48" cy="421.80" r="4.0" fill="#fff" stroke="#858585" stroke-width="0.75"/>
<path d="M290.48,421.80L290.48,417.80A4.0,4.0 0 0 1 294.28,420.56Z" fill="#000"/>
<circle cx="364.64" cy="421.80" r="4.0" fill="#fff" stroke="#858585" stroke-width="0.75"/>
<path d="M364.64,421.80L364.64,417.80A4.0,4.0 0 1 1 360.84,420.56Z" fill="#000"/>
<circle cx="381.31" cy="421.80" r="4.0" fill="#fff" stroke="#858585" stroke-width="0.75"/>
<path d="M381.31,421.80L381.31,417.80A4.0,4.0 0 0 1 385.11,423.04Z" fill="#000"/>
<circle cx="405.41" cy="421.80" r="4.0" fill="#fff" stroke="#858585" stroke-width="0.75"/>
<path d="M405.41,421.80L405.41,417.80A4.0,4.0 0 1 1 402.17,419.45Z" fill="#000"/>
<circle cx="435.31" cy="421.80" r="4.0" fill="#fff" stroke="#858585" stroke-width="0.75"/>
<path d="M435.31,421.80L435.31,417.80A4.0,4.0 0 0 1 437.24,418.29Z" fill="#000"/>
<circle cx="470.91" cy="421.80" r="4.0" fill="#fff" stroke="#858585" stroke-width="0.75"/>
<path d="M470.91,421.80L470.91,417.80A4.0,4.0 0 1 1 467.67,419.45Z" fill="#000"/>
<circle cx="484.12" cy="421.80" r="4.0" fill="#fff" stroke="#858585" stroke-width="0.75"/>
<path d="M484.12,421.80L484.12,417.80A4.0,4.0 0 1 1 480.88,419.45Z" fill="#000"/>
<circle cx="497.04" cy="421.80" r="4.0" fill="#fff" stroke="#858585" stroke-width="0.75"/>
<path d="M497.04,421.80L497.04,417.80A4.0,4.0 0 1 1 493.24,420.56Z" fill="#000"/>
<circle cx="519.4" cy="421.80" r="4.0" fill="#fff" stroke="#858585" stroke-width="0.75"/>
<path d="M519.4,421.80L519.4,417.80A4.0,4.0 0 1 1 516.16,419.45Z" fill="#000"/>
<circle cx="534.2" cy="421.80" r="4.0" fill="#fff" stroke="#858585" stroke-width="0.75"/>
<path d="M534.2,421.80L534.2,417.80A4.0,4.0 0 1 1 530.40,420.56Z" fill="#000"/>
<circle cx="563.64" cy="421.80" r="4.0" fill="#fff" stroke="#858585" stroke-width="0.75"/>
<path d="M563.64,421.80L563.64,417.80A4.0,4.0 0 1 1 559.84,420.56Z" fill="#000"/>
<circle cx="573.18" cy="421.80" r="4.0" fill="#fff" stroke="#858585" stroke-width="0.75"/>
<path d="M573.18,421.80L573.18,417.80A4.0,4.0 0 0 1 574.42,418.00Z" fill="#000"/>
<circle cx="600.62" cy="421.80" r="4.0" fill="#fff" stroke="#858585" stroke-width="0.75"/>
<path d="M600.62,421.80L600.62,417.80A4.0,4.0 0 0 1 604.42,423.04Z" fill="#000"/>
<text x="0" y="0" font-size="5.5" text-anchor="end" fill="#1a1a1a" stroke="#1a1a1a" stroke-width="0.15" transform="translate(665.9 423.00) scale(0.95 1)">(55.8 %)</text>
<circle cx="290.5" cy="430.60" r="4.0" fill="#fff" stroke="#858585" stroke-width="0.75"/>
<path d="M290.5,430.60L290.5,426.60A4.0,4.0 0 0 1 290.50,434.60Z" fill="#000"/>
<circle cx="364.65" cy="430.60" r="4.0" fill="#fff" stroke="#858585" stroke-width="0.75"/>
<path d="M364.65,430.60L364.65,426.60A4.0,4.0 0 0 1 368.65,430.60Z" fill="#000"/>
<circle cx="381.35" cy="430.60" r="4.0" fill="#fff" stroke="#858585" stroke-width="0.75"/>
<path d="M381.35,430.60L381.35,426.60A4.0,4.0 0 0 1 385.35,430.60Z" fill="#000"/>
<circle cx="405.4" cy="430.60" r="4.0" fill="#fff" stroke="#858585" stroke-width="0.75"/>
<path d="M405.4,430.60L405.4,426.60A4.0,4.0 0 1 1 402.16,428.25Z" fill="#000"/>
<circle cx="435.3" cy="430.60" r="4.0" fill="#fff" stroke="#858585" stroke-width="0.75"/>
<path d="M435.3,430.60L435.3,426.60A4.0,4.0 0 0 1 435.80,426.63Z" fill="#000"/>
<circle cx="470.9" cy="430.60" r="4.0" fill="#fff" stroke="#858585" stroke-width="0.75"/>
<circle cx="470.9" cy="430.60" r="4.0" fill="#000"/>
<circle cx="484.1" cy="430.60" r="4.0" fill="#fff" stroke="#858585" stroke-width="0.75"/>
<circle cx="484.1" cy="430.60" r="4.0" fill="#000"/>
<circle cx="497.05" cy="430.60" r="4.0" fill="#fff" stroke="#858585" stroke-width="0.75"/>
<path d="M497.05,430.60L497.05,426.60A4.0,4.0 0 1 1 493.05,430.60Z" fill="#000"/>
<circle cx="519.4" cy="430.60" r="4.0" fill="#fff" stroke="#858585" stroke-width="0.75"/>
<circle cx="519.4" cy="430.60" r="4.0" fill="#000"/>
<circle cx="534.2" cy="430.60" r="4.0" fill="#fff" stroke="#858585" stroke-width="0.75"/>
<path d="M534.2,430.60L534.2,426.60A4.0,4.0 0 1 1 530.20,430.60Z" fill="#000"/>
<circle cx="563.65" cy="430.60" r="4.0" fill="#fff" stroke="#858585" stroke-width="0.75"/>
<path d="M563.65,430.60L563.65,426.60A4.0,4.0 0 1 1 559.85,429.36Z" fill="#000"/>
<circle cx="573.2" cy="430.60" r="4.0" fill="#fff" stroke="#858585" stroke-width="0.75"/>
<path d="M573.2,430.60L573.2,426.60A4.0,4.0 0 0 1 577.00,431.84Z" fill="#000"/>
<circle cx="600.6" cy="430.60" r="4.0" fill="#fff" stroke="#858585" stroke-width="0.75"/>
<path d="M600.6,430.60L600.6,426.60A4.0,4.0 0 1 1 599.36,426.80Z" fill="#000"/>
<text x="0" y="0" font-size="5.5" text-anchor="end" fill="#1a1a1a" stroke="#1a1a1a" stroke-width="0.15" transform="translate(665.9 431.80) scale(0.95 1)">(62.5 %)</text>
<text x="269.9" y="85.6" font-size="7.9" font-weight="bold" font-style="normal" text-anchor="start" fill="#111" textLength="31.7" lengthAdjust="spacingAndGlyphs" transform="rotate(-90 269.9 85.6)" stroke="#111" stroke-width="0.3">Fin cells</text>
<text x="270.2" y="147.9" font-size="7.9" font-weight="bold" font-style="normal" text-anchor="start" fill="#111" textLength="34.0" lengthAdjust="spacingAndGlyphs" transform="rotate(-90 270.2 147.9)" stroke="#111" stroke-width="0.3">Ctrl 24 h</text>
<text x="269.6" y="346.7" font-size="7.9" font-weight="bold" font-style="normal" text-anchor="start" fill="#111" textLength="81.6" lengthAdjust="spacingAndGlyphs" transform="rotate(-90 269.6 346.7)" stroke="#111" stroke-width="0.3">Clones at 24 h-stage</text>
</svg>
</body></html>
